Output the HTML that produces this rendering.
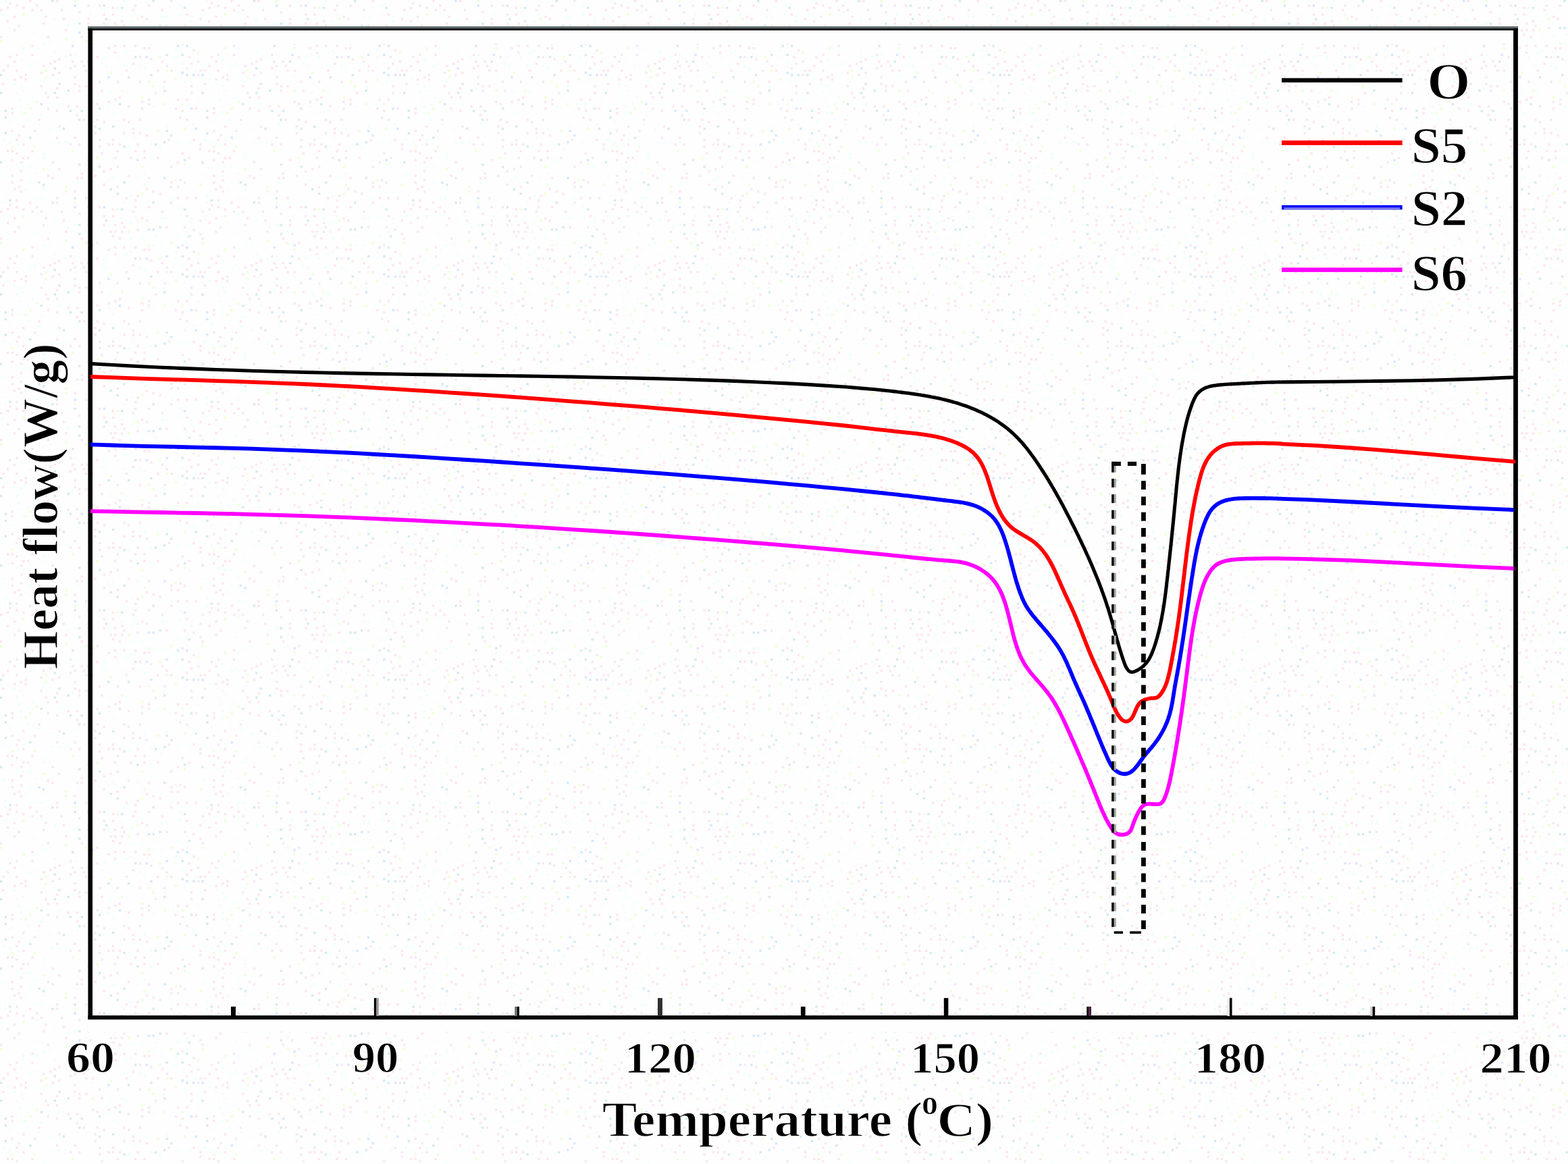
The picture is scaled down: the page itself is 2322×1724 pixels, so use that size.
<!DOCTYPE html>
<html lang="en"><head><meta charset="utf-8"><title>DSC heat flow curves</title>
<style>
html,body{margin:0;padding:0;background:#fefefe;}
body{width:2322px;height:1724px;overflow:hidden;}
svg{display:block;}
text{font-family:'Liberation Serif','Times New Roman',serif;font-weight:bold;fill:#000;stroke:#fefefe;stroke-width:1.8px;stroke-linejoin:round;}
.c{fill:none;stroke-width:5.8;stroke-linejoin:round;stroke-linecap:butt;}
</style></head><body>
<svg width="2322" height="1724" viewBox="0 0 2322 1724">
<defs><pattern id="dots" width="298.54" height="298.54" patternUnits="userSpaceOnUse"><rect x="136.00" y="63.03" width="3.32" height="3.32" fill="#d2e8f5"/><rect x="275.32" y="19.90" width="3.32" height="3.32" fill="#fde4ed"/><rect x="225.57" y="39.81" width="3.32" height="3.32" fill="#d2e8f5"/><rect x="245.47" y="23.22" width="3.32" height="3.32" fill="#eefeff"/><rect x="89.56" y="13.27" width="3.32" height="3.32" fill="#fde4ed"/><rect x="182.44" y="175.81" width="3.32" height="3.32" fill="#fde4ed"/><rect x="99.51" y="36.49" width="3.32" height="3.32" fill="#eefeff"/><rect x="179.13" y="23.22" width="3.32" height="3.32" fill="#eefeff"/><rect x="49.76" y="92.88" width="3.32" height="3.32" fill="#eefeff"/><rect x="23.22" y="242.15" width="3.32" height="3.32" fill="#eefeff"/><rect x="165.86" y="19.90" width="3.32" height="3.32" fill="#fde4ed"/><rect x="16.59" y="235.52" width="3.32" height="3.32" fill="#fde4ed"/><rect x="122.73" y="175.81" width="3.32" height="3.32" fill="#fde4ed"/><rect x="228.88" y="49.76" width="3.32" height="3.32" fill="#eefeff"/><rect x="129.37" y="235.52" width="3.32" height="3.32" fill="#fde4ed"/><rect x="43.12" y="245.47" width="3.32" height="3.32" fill="#eefeff"/><rect x="268.69" y="79.61" width="3.32" height="3.32" fill="#d2e8f5"/><rect x="39.81" y="232.20" width="3.32" height="3.32" fill="#fde4ed"/><rect x="238.83" y="23.22" width="3.32" height="3.32" fill="#eefeff"/><rect x="86.25" y="208.98" width="3.32" height="3.32" fill="#eefeff"/><rect x="179.13" y="132.69" width="3.32" height="3.32" fill="#eeffd8"/><rect x="245.47" y="192.39" width="3.32" height="3.32" fill="#d2e8f5"/><rect x="126.05" y="102.83" width="3.32" height="3.32" fill="#fde4ed"/><rect x="295.23" y="102.83" width="3.32" height="3.32" fill="#fde4ed"/><rect x="242.15" y="126.05" width="3.32" height="3.32" fill="#eefeff"/><rect x="208.98" y="142.64" width="3.32" height="3.32" fill="#eeffd8"/><rect x="119.42" y="255.42" width="3.32" height="3.32" fill="#fde4ed"/><rect x="49.76" y="215.61" width="3.32" height="3.32" fill="#eeffd8"/><rect x="69.66" y="142.64" width="3.32" height="3.32" fill="#fde4ed"/><rect x="205.66" y="175.81" width="3.32" height="3.32" fill="#fde4ed"/><rect x="281.96" y="29.85" width="3.32" height="3.32" fill="#eefeff"/><rect x="242.15" y="132.69" width="3.32" height="3.32" fill="#d2e8f5"/><rect x="291.91" y="145.95" width="3.32" height="3.32" fill="#eefeff"/><rect x="208.98" y="245.47" width="3.32" height="3.32" fill="#eeffd8"/><rect x="26.54" y="36.49" width="3.32" height="3.32" fill="#fde4ed"/><rect x="199.03" y="295.23" width="3.32" height="3.32" fill="#fde4ed"/><rect x="23.22" y="295.23" width="3.32" height="3.32" fill="#fde4ed"/><rect x="272.01" y="242.15" width="3.32" height="3.32" fill="#eeffd8"/><rect x="119.42" y="162.54" width="3.32" height="3.32" fill="#d2e8f5"/><rect x="6.63" y="195.71" width="3.32" height="3.32" fill="#d2e8f5"/><rect x="69.66" y="258.74" width="3.32" height="3.32" fill="#fde4ed"/><rect x="208.98" y="23.22" width="3.32" height="3.32" fill="#fde4ed"/><rect x="119.42" y="53.07" width="3.32" height="3.32" fill="#fde4ed"/><rect x="165.86" y="165.86" width="3.32" height="3.32" fill="#eefeff"/><rect x="33.17" y="69.66" width="3.32" height="3.32" fill="#eeffd8"/><rect x="169.17" y="232.20" width="3.32" height="3.32" fill="#fde4ed"/><rect x="56.39" y="182.44" width="3.32" height="3.32" fill="#eefeff"/><rect x="116.10" y="175.81" width="3.32" height="3.32" fill="#d2e8f5"/><rect x="288.59" y="159.22" width="3.32" height="3.32" fill="#fde4ed"/><rect x="63.03" y="33.17" width="3.32" height="3.32" fill="#fde4ed"/><rect x="63.03" y="96.20" width="3.32" height="3.32" fill="#fde4ed"/><rect x="3.32" y="205.66" width="3.32" height="3.32" fill="#eefeff"/><rect x="76.29" y="109.47" width="3.32" height="3.32" fill="#fde4ed"/><rect x="0.00" y="59.71" width="3.32" height="3.32" fill="#eeffd8"/><rect x="225.57" y="155.91" width="3.32" height="3.32" fill="#eefeff"/><rect x="53.07" y="291.91" width="3.32" height="3.32" fill="#eefeff"/><rect x="262.05" y="275.32" width="3.32" height="3.32" fill="#fde4ed"/><rect x="192.39" y="288.59" width="3.32" height="3.32" fill="#eefeff"/><rect x="43.12" y="202.35" width="3.32" height="3.32" fill="#d2e8f5"/><rect x="23.22" y="79.61" width="3.32" height="3.32" fill="#fde4ed"/><rect x="86.25" y="185.76" width="3.32" height="3.32" fill="#fde4ed"/><rect x="46.44" y="142.64" width="3.32" height="3.32" fill="#eefeff"/><rect x="19.90" y="43.12" width="3.32" height="3.32" fill="#fde4ed"/><rect x="238.83" y="63.03" width="3.32" height="3.32" fill="#eefeff"/><rect x="39.81" y="152.59" width="3.32" height="3.32" fill="#eefeff"/><rect x="9.95" y="29.85" width="3.32" height="3.32" fill="#fde4ed"/><rect x="258.74" y="159.22" width="3.32" height="3.32" fill="#fde4ed"/><rect x="268.69" y="106.15" width="3.32" height="3.32" fill="#d2e8f5"/><rect x="255.42" y="152.59" width="3.32" height="3.32" fill="#eefeff"/><rect x="49.76" y="46.44" width="3.32" height="3.32" fill="#eefeff"/><rect x="195.71" y="202.35" width="3.32" height="3.32" fill="#eefeff"/><rect x="129.37" y="33.17" width="3.32" height="3.32" fill="#fde4ed"/><rect x="109.47" y="202.35" width="3.32" height="3.32" fill="#fde4ed"/><rect x="218.93" y="6.63" width="3.32" height="3.32" fill="#fde4ed"/><rect x="59.71" y="291.91" width="3.32" height="3.32" fill="#eefeff"/><rect x="9.95" y="222.25" width="3.32" height="3.32" fill="#fde4ed"/><rect x="272.01" y="36.49" width="3.32" height="3.32" fill="#fde4ed"/><rect x="218.93" y="152.59" width="3.32" height="3.32" fill="#fde4ed"/><rect x="149.27" y="92.88" width="3.32" height="3.32" fill="#eefeff"/><rect x="228.88" y="212.30" width="3.32" height="3.32" fill="#d2e8f5"/><rect x="268.69" y="92.88" width="3.32" height="3.32" fill="#eefeff"/><rect x="79.61" y="99.51" width="3.32" height="3.32" fill="#d2e8f5"/><rect x="96.20" y="82.93" width="3.32" height="3.32" fill="#eefeff"/><rect x="208.98" y="149.27" width="3.32" height="3.32" fill="#fde4ed"/><rect x="9.95" y="116.10" width="3.32" height="3.32" fill="#eefeff"/><rect x="109.47" y="79.61" width="3.32" height="3.32" fill="#eefeff"/><rect x="145.95" y="189.08" width="3.32" height="3.32" fill="#d2e8f5"/><rect x="152.59" y="33.17" width="3.32" height="3.32" fill="#fde4ed"/><rect x="43.12" y="96.20" width="3.32" height="3.32" fill="#eefeff"/><rect x="82.93" y="142.64" width="3.32" height="3.32" fill="#fde4ed"/><rect x="202.35" y="262.05" width="3.32" height="3.32" fill="#eefeff"/><rect x="275.32" y="145.95" width="3.32" height="3.32" fill="#fde4ed"/><rect x="278.64" y="49.76" width="3.32" height="3.32" fill="#d2e8f5"/><rect x="82.93" y="202.35" width="3.32" height="3.32" fill="#fde4ed"/><rect x="182.44" y="268.69" width="3.32" height="3.32" fill="#d2e8f5"/><rect x="36.49" y="165.86" width="3.32" height="3.32" fill="#eeffd8"/><rect x="169.17" y="33.17" width="3.32" height="3.32" fill="#fde4ed"/><rect x="69.66" y="53.07" width="3.32" height="3.32" fill="#fde4ed"/><rect x="63.03" y="248.79" width="3.32" height="3.32" fill="#eeffd8"/><rect x="275.32" y="59.71" width="3.32" height="3.32" fill="#eefeff"/><rect x="252.10" y="199.03" width="3.32" height="3.32" fill="#d2e8f5"/><rect x="63.03" y="232.20" width="3.32" height="3.32" fill="#eefeff"/><rect x="53.07" y="6.63" width="3.32" height="3.32" fill="#fde4ed"/><rect x="275.32" y="43.12" width="3.32" height="3.32" fill="#eefeff"/><rect x="79.61" y="89.56" width="3.32" height="3.32" fill="#fde4ed"/><rect x="106.15" y="89.56" width="3.32" height="3.32" fill="#fde4ed"/><rect x="212.30" y="99.51" width="3.32" height="3.32" fill="#eefeff"/><rect x="136.00" y="109.47" width="3.32" height="3.32" fill="#eefeff"/><rect x="175.81" y="53.07" width="3.32" height="3.32" fill="#fde4ed"/><rect x="278.64" y="245.47" width="3.32" height="3.32" fill="#eefeff"/><rect x="175.81" y="212.30" width="3.32" height="3.32" fill="#fde4ed"/><rect x="225.57" y="63.03" width="3.32" height="3.32" fill="#eefeff"/><rect x="185.76" y="76.29" width="3.32" height="3.32" fill="#eefeff"/><rect x="72.98" y="59.71" width="3.32" height="3.32" fill="#eefeff"/><rect x="262.05" y="49.76" width="3.32" height="3.32" fill="#eefeff"/><rect x="23.22" y="136.00" width="3.32" height="3.32" fill="#eefeff"/><rect x="222.25" y="235.52" width="3.32" height="3.32" fill="#eefeff"/><rect x="23.22" y="102.83" width="3.32" height="3.32" fill="#fde4ed"/><rect x="116.10" y="16.59" width="3.32" height="3.32" fill="#fde4ed"/><rect x="212.30" y="189.08" width="3.32" height="3.32" fill="#eefeff"/><rect x="185.76" y="136.00" width="3.32" height="3.32" fill="#eefeff"/><rect x="212.30" y="255.42" width="3.32" height="3.32" fill="#eefeff"/><rect x="82.93" y="291.91" width="3.32" height="3.32" fill="#fde4ed"/><rect x="189.08" y="215.61" width="3.32" height="3.32" fill="#eefeff"/><rect x="202.35" y="212.30" width="3.32" height="3.32" fill="#fde4ed"/><rect x="295.23" y="218.93" width="3.32" height="3.32" fill="#fde4ed"/><rect x="235.52" y="82.93" width="3.32" height="3.32" fill="#eeffd8"/><rect x="56.39" y="175.81" width="3.32" height="3.32" fill="#fde4ed"/><rect x="165.86" y="185.76" width="3.32" height="3.32" fill="#d2e8f5"/><rect x="29.85" y="281.96" width="3.32" height="3.32" fill="#fde4ed"/><rect x="179.13" y="29.85" width="3.32" height="3.32" fill="#fde4ed"/><rect x="281.96" y="126.05" width="3.32" height="3.32" fill="#fde4ed"/><rect x="63.03" y="272.01" width="3.32" height="3.32" fill="#d2e8f5"/><rect x="59.71" y="106.15" width="3.32" height="3.32" fill="#fde4ed"/><rect x="195.71" y="92.88" width="3.32" height="3.32" fill="#fde4ed"/><rect x="165.86" y="205.66" width="3.32" height="3.32" fill="#fde4ed"/><rect x="281.96" y="92.88" width="3.32" height="3.32" fill="#fde4ed"/><rect x="182.44" y="215.61" width="3.32" height="3.32" fill="#d2e8f5"/><rect x="142.64" y="175.81" width="3.32" height="3.32" fill="#fde4ed"/><rect x="149.27" y="132.69" width="3.32" height="3.32" fill="#fde4ed"/><rect x="152.59" y="6.63" width="3.32" height="3.32" fill="#d2e8f5"/><rect x="232.20" y="192.39" width="3.32" height="3.32" fill="#eeffd8"/><rect x="6.63" y="162.54" width="3.32" height="3.32" fill="#d2e8f5"/><rect x="218.93" y="262.05" width="3.32" height="3.32" fill="#fde4ed"/><rect x="215.61" y="26.54" width="3.32" height="3.32" fill="#fde4ed"/><rect x="96.20" y="43.12" width="3.32" height="3.32" fill="#fde4ed"/><rect x="109.47" y="112.78" width="3.32" height="3.32" fill="#fde4ed"/><rect x="285.27" y="109.47" width="3.32" height="3.32" fill="#d2e8f5"/><rect x="63.03" y="225.57" width="3.32" height="3.32" fill="#eefeff"/><rect x="242.15" y="208.98" width="3.32" height="3.32" fill="#d2e8f5"/><rect x="36.49" y="116.10" width="3.32" height="3.32" fill="#fde4ed"/><rect x="291.91" y="76.29" width="3.32" height="3.32" fill="#eeffd8"/><rect x="29.85" y="112.78" width="3.32" height="3.32" fill="#fde4ed"/><rect x="109.47" y="33.17" width="3.32" height="3.32" fill="#eefeff"/><rect x="92.88" y="26.54" width="3.32" height="3.32" fill="#fde4ed"/><rect x="49.76" y="192.39" width="3.32" height="3.32" fill="#fde4ed"/><rect x="142.64" y="232.20" width="3.32" height="3.32" fill="#eeffd8"/><rect x="112.78" y="262.05" width="3.32" height="3.32" fill="#fde4ed"/><rect x="16.59" y="222.25" width="3.32" height="3.32" fill="#fde4ed"/><rect x="46.44" y="66.34" width="3.32" height="3.32" fill="#fde4ed"/><rect x="82.93" y="129.37" width="3.32" height="3.32" fill="#fde4ed"/><rect x="222.25" y="86.25" width="3.32" height="3.32" fill="#fde4ed"/><rect x="285.27" y="72.98" width="3.32" height="3.32" fill="#fde4ed"/><rect x="145.95" y="6.63" width="3.32" height="3.32" fill="#fde4ed"/><rect x="13.27" y="3.32" width="3.32" height="3.32" fill="#fde4ed"/><rect x="212.30" y="232.20" width="3.32" height="3.32" fill="#fde4ed"/><rect x="215.61" y="199.03" width="3.32" height="3.32" fill="#fde4ed"/><rect x="189.08" y="43.12" width="3.32" height="3.32" fill="#eeffd8"/><rect x="278.64" y="208.98" width="3.32" height="3.32" fill="#eefeff"/><rect x="165.86" y="212.30" width="3.32" height="3.32" fill="#fde4ed"/><rect x="291.91" y="89.56" width="3.32" height="3.32" fill="#fde4ed"/><rect x="142.64" y="82.93" width="3.32" height="3.32" fill="#fde4ed"/><rect x="169.17" y="145.95" width="3.32" height="3.32" fill="#fde4ed"/><rect x="29.85" y="265.37" width="3.32" height="3.32" fill="#fde4ed"/><rect x="182.44" y="66.34" width="3.32" height="3.32" fill="#fde4ed"/><rect x="159.22" y="212.30" width="3.32" height="3.32" fill="#fde4ed"/><rect x="252.10" y="102.83" width="3.32" height="3.32" fill="#fde4ed"/><rect x="16.59" y="192.39" width="3.32" height="3.32" fill="#fde4ed"/><rect x="66.34" y="112.78" width="3.32" height="3.32" fill="#eeffd8"/><rect x="0.00" y="109.47" width="3.32" height="3.32" fill="#d2e8f5"/><rect x="136.00" y="102.83" width="3.32" height="3.32" fill="#fde4ed"/><rect x="129.37" y="89.56" width="3.32" height="3.32" fill="#d2e8f5"/><rect x="76.29" y="0.00" width="3.32" height="3.32" fill="#d2e8f5"/><rect x="159.22" y="33.17" width="3.32" height="3.32" fill="#eefeff"/><rect x="116.10" y="212.30" width="3.32" height="3.32" fill="#fde4ed"/><rect x="102.83" y="212.30" width="3.32" height="3.32" fill="#fde4ed"/><rect x="36.49" y="109.47" width="3.32" height="3.32" fill="#fde4ed"/><rect x="59.71" y="169.17" width="3.32" height="3.32" fill="#eefeff"/><rect x="16.59" y="165.86" width="3.32" height="3.32" fill="#fde4ed"/><rect x="126.05" y="126.05" width="3.32" height="3.32" fill="#fde4ed"/><rect x="33.17" y="245.47" width="3.32" height="3.32" fill="#eefeff"/><rect x="63.03" y="278.64" width="3.32" height="3.32" fill="#eefeff"/><rect x="162.54" y="136.00" width="3.32" height="3.32" fill="#eefeff"/><rect x="63.03" y="119.42" width="3.32" height="3.32" fill="#eefeff"/><rect x="16.59" y="215.61" width="3.32" height="3.32" fill="#eeffd8"/><rect x="295.23" y="212.30" width="3.32" height="3.32" fill="#fde4ed"/><rect x="222.25" y="212.30" width="3.32" height="3.32" fill="#eefeff"/><rect x="6.63" y="288.59" width="3.32" height="3.32" fill="#eefeff"/><rect x="288.59" y="291.91" width="3.32" height="3.32" fill="#fde4ed"/><rect x="33.17" y="9.95" width="3.32" height="3.32" fill="#fde4ed"/><rect x="56.39" y="268.69" width="3.32" height="3.32" fill="#d2e8f5"/><rect x="43.12" y="159.22" width="3.32" height="3.32" fill="#eeffd8"/><rect x="265.37" y="6.63" width="3.32" height="3.32" fill="#eefeff"/><rect x="288.59" y="102.83" width="3.32" height="3.32" fill="#eefeff"/><rect x="109.47" y="0.00" width="3.32" height="3.32" fill="#eeffd8"/><rect x="26.54" y="212.30" width="3.32" height="3.32" fill="#eefeff"/><rect x="36.49" y="278.64" width="3.32" height="3.32" fill="#eefeff"/><rect x="26.54" y="199.03" width="3.32" height="3.32" fill="#fde4ed"/><rect x="96.20" y="275.32" width="3.32" height="3.32" fill="#eeffd8"/><rect x="208.98" y="159.22" width="3.32" height="3.32" fill="#fde4ed"/><rect x="202.35" y="288.59" width="3.32" height="3.32" fill="#fde4ed"/><rect x="16.59" y="258.74" width="3.32" height="3.32" fill="#fde4ed"/><rect x="29.85" y="252.10" width="3.32" height="3.32" fill="#fde4ed"/><rect x="275.32" y="291.91" width="3.32" height="3.32" fill="#fde4ed"/><rect x="262.05" y="238.83" width="3.32" height="3.32" fill="#fde4ed"/><rect x="23.22" y="205.66" width="3.32" height="3.32" fill="#fde4ed"/><rect x="285.27" y="39.81" width="3.32" height="3.32" fill="#fde4ed"/><rect x="285.27" y="205.66" width="3.32" height="3.32" fill="#fde4ed"/><rect x="218.93" y="119.42" width="3.32" height="3.32" fill="#eeffd8"/><rect x="195.71" y="195.71" width="3.32" height="3.32" fill="#fde4ed"/><rect x="199.03" y="6.63" width="3.32" height="3.32" fill="#fde4ed"/><rect x="192.39" y="29.85" width="3.32" height="3.32" fill="#eefeff"/><rect x="189.08" y="112.78" width="3.32" height="3.32" fill="#d2e8f5"/><rect x="86.25" y="86.25" width="3.32" height="3.32" fill="#fde4ed"/><rect x="245.47" y="36.49" width="3.32" height="3.32" fill="#fde4ed"/><rect x="222.25" y="109.47" width="3.32" height="3.32" fill="#d2e8f5"/><rect x="53.07" y="255.42" width="3.32" height="3.32" fill="#eefeff"/><rect x="116.10" y="46.44" width="3.32" height="3.32" fill="#d2e8f5"/><rect x="96.20" y="208.98" width="3.32" height="3.32" fill="#eefeff"/><rect x="165.86" y="9.95" width="3.32" height="3.32" fill="#fde4ed"/><rect x="288.59" y="189.08" width="3.32" height="3.32" fill="#d2e8f5"/><rect x="126.05" y="59.71" width="3.32" height="3.32" fill="#eeffd8"/><rect x="145.95" y="159.22" width="3.32" height="3.32" fill="#d2e8f5"/><rect x="0.00" y="136.00" width="3.32" height="3.32" fill="#d2e8f5"/><rect x="165.86" y="49.76" width="3.32" height="3.32" fill="#fde4ed"/><rect x="3.32" y="122.73" width="3.32" height="3.32" fill="#fde4ed"/><rect x="155.91" y="26.54" width="3.32" height="3.32" fill="#d2e8f5"/><rect x="162.54" y="248.79" width="3.32" height="3.32" fill="#fde4ed"/><rect x="152.59" y="179.13" width="3.32" height="3.32" fill="#fde4ed"/><rect x="19.90" y="116.10" width="3.32" height="3.32" fill="#fde4ed"/><rect x="19.90" y="278.64" width="3.32" height="3.32" fill="#fde4ed"/><rect x="268.69" y="63.03" width="3.32" height="3.32" fill="#fde4ed"/><rect x="112.78" y="182.44" width="3.32" height="3.32" fill="#eefeff"/><rect x="132.69" y="79.61" width="3.32" height="3.32" fill="#d2e8f5"/><rect x="179.13" y="9.95" width="3.32" height="3.32" fill="#d2e8f5"/><rect x="232.20" y="232.20" width="3.32" height="3.32" fill="#fde4ed"/><rect x="33.17" y="19.90" width="3.32" height="3.32" fill="#eeffd8"/><rect x="189.08" y="258.74" width="3.32" height="3.32" fill="#fde4ed"/><rect x="272.01" y="119.42" width="3.32" height="3.32" fill="#eefeff"/><rect x="53.07" y="69.66" width="3.32" height="3.32" fill="#eefeff"/><rect x="175.81" y="142.64" width="3.32" height="3.32" fill="#fde4ed"/><rect x="275.32" y="109.47" width="3.32" height="3.32" fill="#d2e8f5"/><rect x="275.32" y="99.51" width="3.32" height="3.32" fill="#fde4ed"/><rect x="202.35" y="235.52" width="3.32" height="3.32" fill="#d2e8f5"/><rect x="29.85" y="86.25" width="3.32" height="3.32" fill="#eefeff"/><rect x="92.88" y="189.08" width="3.32" height="3.32" fill="#d2e8f5"/><rect x="189.08" y="179.13" width="3.32" height="3.32" fill="#fde4ed"/><rect x="235.52" y="36.49" width="3.32" height="3.32" fill="#d2e8f5"/><rect x="99.51" y="155.91" width="3.32" height="3.32" fill="#fde4ed"/><rect x="6.63" y="172.49" width="3.32" height="3.32" fill="#d2e8f5"/><rect x="172.49" y="222.25" width="3.32" height="3.32" fill="#fde4ed"/><rect x="159.22" y="112.78" width="3.32" height="3.32" fill="#d2e8f5"/><rect x="116.10" y="242.15" width="3.32" height="3.32" fill="#d2e8f5"/><rect x="212.30" y="222.25" width="3.32" height="3.32" fill="#fde4ed"/><rect x="102.83" y="162.54" width="3.32" height="3.32" fill="#d2e8f5"/><rect x="272.01" y="189.08" width="3.32" height="3.32" fill="#eeffd8"/><rect x="129.37" y="6.63" width="3.32" height="3.32" fill="#fde4ed"/><rect x="13.27" y="179.13" width="3.32" height="3.32" fill="#eefeff"/><rect x="248.79" y="205.66" width="3.32" height="3.32" fill="#fde4ed"/><rect x="29.85" y="165.86" width="3.32" height="3.32" fill="#eefeff"/><rect x="195.71" y="189.08" width="3.32" height="3.32" fill="#fde4ed"/><rect x="63.03" y="63.03" width="3.32" height="3.32" fill="#eefeff"/><rect x="295.23" y="272.01" width="3.32" height="3.32" fill="#eeffd8"/><rect x="33.17" y="232.20" width="3.32" height="3.32" fill="#fde4ed"/><rect x="0.00" y="53.07" width="3.32" height="3.32" fill="#fde4ed"/><rect x="238.83" y="13.27" width="3.32" height="3.32" fill="#fde4ed"/><rect x="106.15" y="222.25" width="3.32" height="3.32" fill="#eeffd8"/><rect x="295.23" y="46.44" width="3.32" height="3.32" fill="#fde4ed"/><rect x="29.85" y="126.05" width="3.32" height="3.32" fill="#eefeff"/><rect x="245.47" y="79.61" width="3.32" height="3.32" fill="#d2e8f5"/><rect x="252.10" y="0.00" width="3.32" height="3.32" fill="#fde4ed"/><rect x="225.57" y="126.05" width="3.32" height="3.32" fill="#eeffd8"/><rect x="116.10" y="132.69" width="3.32" height="3.32" fill="#fde4ed"/><rect x="199.03" y="222.25" width="3.32" height="3.32" fill="#fde4ed"/><rect x="232.20" y="102.83" width="3.32" height="3.32" fill="#fde4ed"/><rect x="172.49" y="275.32" width="3.32" height="3.32" fill="#fde4ed"/><rect x="23.22" y="6.63" width="3.32" height="3.32" fill="#fde4ed"/><rect x="208.98" y="285.27" width="3.32" height="3.32" fill="#eeffd8"/><rect x="96.20" y="281.96" width="3.32" height="3.32" fill="#eeffd8"/><rect x="155.91" y="96.20" width="3.32" height="3.32" fill="#eefeff"/><rect x="13.27" y="295.23" width="3.32" height="3.32" fill="#d2e8f5"/><rect x="175.81" y="152.59" width="3.32" height="3.32" fill="#d2e8f5"/><rect x="82.93" y="0.00" width="3.32" height="3.32" fill="#fde4ed"/><rect x="109.47" y="122.73" width="3.32" height="3.32" fill="#fde4ed"/><rect x="262.05" y="208.98" width="3.32" height="3.32" fill="#eefeff"/><rect x="281.96" y="23.22" width="3.32" height="3.32" fill="#eefeff"/><rect x="19.90" y="89.56" width="3.32" height="3.32" fill="#fde4ed"/><rect x="252.10" y="59.71" width="3.32" height="3.32" fill="#eeffd8"/><rect x="19.90" y="23.22" width="3.32" height="3.32" fill="#fde4ed"/><rect x="132.69" y="46.44" width="3.32" height="3.32" fill="#fde4ed"/><rect x="79.61" y="76.29" width="3.32" height="3.32" fill="#eefeff"/><rect x="195.71" y="13.27" width="3.32" height="3.32" fill="#fde4ed"/><rect x="281.96" y="159.22" width="3.32" height="3.32" fill="#d2e8f5"/><rect x="139.32" y="185.76" width="3.32" height="3.32" fill="#fde4ed"/><rect x="43.12" y="0.00" width="3.32" height="3.32" fill="#fde4ed"/><rect x="116.10" y="33.17" width="3.32" height="3.32" fill="#d2e8f5"/><rect x="159.22" y="149.27" width="3.32" height="3.32" fill="#fde4ed"/><rect x="182.44" y="36.49" width="3.32" height="3.32" fill="#fde4ed"/><rect x="199.03" y="82.93" width="3.32" height="3.32" fill="#d2e8f5"/><rect x="79.61" y="136.00" width="3.32" height="3.32" fill="#d2e8f5"/><rect x="265.37" y="172.49" width="3.32" height="3.32" fill="#fde4ed"/><rect x="16.59" y="159.22" width="3.32" height="3.32" fill="#fde4ed"/><rect x="79.61" y="26.54" width="3.32" height="3.32" fill="#eefeff"/><rect x="142.64" y="152.59" width="3.32" height="3.32" fill="#fde4ed"/><rect x="139.32" y="258.74" width="3.32" height="3.32" fill="#fde4ed"/><rect x="109.47" y="291.91" width="3.32" height="3.32" fill="#d2e8f5"/><rect x="116.10" y="126.05" width="3.32" height="3.32" fill="#fde4ed"/><rect x="252.10" y="268.69" width="3.32" height="3.32" fill="#fde4ed"/><rect x="9.95" y="96.20" width="3.32" height="3.32" fill="#fde4ed"/><rect x="162.54" y="106.15" width="3.32" height="3.32" fill="#eeffd8"/><rect x="208.98" y="53.07" width="3.32" height="3.32" fill="#eefeff"/><rect x="126.05" y="291.91" width="3.32" height="3.32" fill="#fde4ed"/><rect x="136.00" y="132.69" width="3.32" height="3.32" fill="#eeffd8"/><rect x="152.59" y="252.10" width="3.32" height="3.32" fill="#fde4ed"/><rect x="215.61" y="82.93" width="3.32" height="3.32" fill="#d2e8f5"/><rect x="66.34" y="102.83" width="3.32" height="3.32" fill="#eeffd8"/><rect x="26.54" y="275.32" width="3.32" height="3.32" fill="#fde4ed"/><rect x="228.88" y="136.00" width="3.32" height="3.32" fill="#fde4ed"/><rect x="179.13" y="43.12" width="3.32" height="3.32" fill="#fde4ed"/><rect x="39.81" y="175.81" width="3.32" height="3.32" fill="#eefeff"/><rect x="96.20" y="56.39" width="3.32" height="3.32" fill="#eeffd8"/><rect x="225.57" y="281.96" width="3.32" height="3.32" fill="#fde4ed"/><rect x="112.78" y="155.91" width="3.32" height="3.32" fill="#fde4ed"/><rect x="185.76" y="102.83" width="3.32" height="3.32" fill="#fde4ed"/><rect x="102.83" y="99.51" width="3.32" height="3.32" fill="#fde4ed"/><rect x="189.08" y="155.91" width="3.32" height="3.32" fill="#fde4ed"/><rect x="122.73" y="96.20" width="3.32" height="3.32" fill="#fde4ed"/><rect x="252.10" y="245.47" width="3.32" height="3.32" fill="#fde4ed"/><rect x="29.85" y="155.91" width="3.32" height="3.32" fill="#eefeff"/><rect x="72.98" y="189.08" width="3.32" height="3.32" fill="#eefeff"/><rect x="109.47" y="281.96" width="3.32" height="3.32" fill="#fde4ed"/><rect x="43.12" y="268.69" width="3.32" height="3.32" fill="#eefeff"/><rect x="262.05" y="145.95" width="3.32" height="3.32" fill="#fde4ed"/><rect x="142.64" y="59.71" width="3.32" height="3.32" fill="#fde4ed"/><rect x="86.25" y="106.15" width="3.32" height="3.32" fill="#fde4ed"/><rect x="252.10" y="275.32" width="3.32" height="3.32" fill="#fde4ed"/><rect x="172.49" y="285.27" width="3.32" height="3.32" fill="#d2e8f5"/><rect x="76.29" y="262.05" width="3.32" height="3.32" fill="#fde4ed"/><rect x="13.27" y="208.98" width="3.32" height="3.32" fill="#eefeff"/><rect x="202.35" y="26.54" width="3.32" height="3.32" fill="#eeffd8"/><rect x="278.64" y="232.20" width="3.32" height="3.32" fill="#fde4ed"/><rect x="268.69" y="225.57" width="3.32" height="3.32" fill="#fde4ed"/><rect x="275.32" y="66.34" width="3.32" height="3.32" fill="#d2e8f5"/><rect x="172.49" y="119.42" width="3.32" height="3.32" fill="#fde4ed"/><rect x="152.59" y="272.01" width="3.32" height="3.32" fill="#fde4ed"/><rect x="242.15" y="152.59" width="3.32" height="3.32" fill="#eeffd8"/><rect x="3.32" y="19.90" width="3.32" height="3.32" fill="#eefeff"/><rect x="242.15" y="262.05" width="3.32" height="3.32" fill="#d2e8f5"/><rect x="212.30" y="69.66" width="3.32" height="3.32" fill="#fde4ed"/><rect x="145.95" y="119.42" width="3.32" height="3.32" fill="#fde4ed"/><rect x="218.93" y="69.66" width="3.32" height="3.32" fill="#fde4ed"/><rect x="205.66" y="82.93" width="3.32" height="3.32" fill="#fde4ed"/><rect x="53.07" y="16.59" width="3.32" height="3.32" fill="#eefeff"/><rect x="132.69" y="19.90" width="3.32" height="3.32" fill="#eefeff"/><rect x="268.69" y="162.54" width="3.32" height="3.32" fill="#fde4ed"/><rect x="262.05" y="291.91" width="3.32" height="3.32" fill="#fde4ed"/><rect x="258.74" y="82.93" width="3.32" height="3.32" fill="#eefeff"/><rect x="76.29" y="238.83" width="3.32" height="3.32" fill="#fde4ed"/><rect x="102.83" y="79.61" width="3.32" height="3.32" fill="#fde4ed"/><rect x="235.52" y="285.27" width="3.32" height="3.32" fill="#fde4ed"/><rect x="281.96" y="136.00" width="3.32" height="3.32" fill="#fde4ed"/><rect x="192.39" y="232.20" width="3.32" height="3.32" fill="#fde4ed"/><rect x="275.32" y="175.81" width="3.32" height="3.32" fill="#fde4ed"/><rect x="245.47" y="102.83" width="3.32" height="3.32" fill="#eeffd8"/><rect x="162.54" y="278.64" width="3.32" height="3.32" fill="#d2e8f5"/><rect x="6.63" y="0.00" width="3.32" height="3.32" fill="#eefeff"/><rect x="205.66" y="195.71" width="3.32" height="3.32" fill="#fde4ed"/><rect x="192.39" y="72.98" width="3.32" height="3.32" fill="#eefeff"/><rect x="169.17" y="43.12" width="3.32" height="3.32" fill="#fde4ed"/><rect x="53.07" y="149.27" width="3.32" height="3.32" fill="#eeffd8"/><rect x="215.61" y="278.64" width="3.32" height="3.32" fill="#fde4ed"/><rect x="16.59" y="268.69" width="3.32" height="3.32" fill="#fde4ed"/><rect x="33.17" y="132.69" width="3.32" height="3.32" fill="#eefeff"/><rect x="46.44" y="79.61" width="3.32" height="3.32" fill="#fde4ed"/><rect x="205.66" y="119.42" width="3.32" height="3.32" fill="#fde4ed"/><rect x="26.54" y="145.95" width="3.32" height="3.32" fill="#eefeff"/><rect x="106.15" y="66.34" width="3.32" height="3.32" fill="#d2e8f5"/><rect x="258.74" y="116.10" width="3.32" height="3.32" fill="#eeffd8"/><rect x="86.25" y="248.79" width="3.32" height="3.32" fill="#fde4ed"/><rect x="99.51" y="132.69" width="3.32" height="3.32" fill="#d2e8f5"/><rect x="13.27" y="82.93" width="3.32" height="3.32" fill="#fde4ed"/><rect x="169.17" y="66.34" width="3.32" height="3.32" fill="#fde4ed"/><rect x="159.22" y="69.66" width="3.32" height="3.32" fill="#fde4ed"/><rect x="46.44" y="222.25" width="3.32" height="3.32" fill="#fde4ed"/><rect x="268.69" y="152.59" width="3.32" height="3.32" fill="#eeffd8"/><rect x="235.52" y="218.93" width="3.32" height="3.32" fill="#eefeff"/><rect x="159.22" y="155.91" width="3.32" height="3.32" fill="#eefeff"/><rect x="59.71" y="152.59" width="3.32" height="3.32" fill="#d2e8f5"/><rect x="33.17" y="185.76" width="3.32" height="3.32" fill="#fde4ed"/><rect x="19.90" y="122.73" width="3.32" height="3.32" fill="#eefeff"/><rect x="106.15" y="129.37" width="3.32" height="3.32" fill="#eefeff"/><rect x="0.00" y="13.27" width="3.32" height="3.32" fill="#fde4ed"/><rect x="258.74" y="265.37" width="3.32" height="3.32" fill="#eeffd8"/><rect x="152.59" y="19.90" width="3.32" height="3.32" fill="#fde4ed"/><rect x="205.66" y="96.20" width="3.32" height="3.32" fill="#eefeff"/><rect x="0.00" y="238.83" width="3.32" height="3.32" fill="#d2e8f5"/><rect x="126.05" y="43.12" width="3.32" height="3.32" fill="#eefeff"/><rect x="149.27" y="225.57" width="3.32" height="3.32" fill="#fde4ed"/><rect x="172.49" y="245.47" width="3.32" height="3.32" fill="#fde4ed"/><rect x="86.25" y="152.59" width="3.32" height="3.32" fill="#eefeff"/><rect x="199.03" y="66.34" width="3.32" height="3.32" fill="#fde4ed"/><rect x="3.32" y="102.83" width="3.32" height="3.32" fill="#fde4ed"/><rect x="112.78" y="169.17" width="3.32" height="3.32" fill="#fde4ed"/><rect x="272.01" y="235.52" width="3.32" height="3.32" fill="#d2e8f5"/><rect x="245.47" y="185.76" width="3.32" height="3.32" fill="#eefeff"/><rect x="23.22" y="225.57" width="3.32" height="3.32" fill="#fde4ed"/><rect x="169.17" y="76.29" width="3.32" height="3.32" fill="#fde4ed"/><rect x="66.34" y="23.22" width="3.32" height="3.32" fill="#fde4ed"/><rect x="3.32" y="258.74" width="3.32" height="3.32" fill="#eefeff"/><rect x="278.64" y="82.93" width="3.32" height="3.32" fill="#fde4ed"/><rect x="172.49" y="82.93" width="3.32" height="3.32" fill="#eefeff"/><rect x="212.30" y="272.01" width="3.32" height="3.32" fill="#eeffd8"/><rect x="258.74" y="72.98" width="3.32" height="3.32" fill="#eefeff"/><rect x="129.37" y="26.54" width="3.32" height="3.32" fill="#fde4ed"/><rect x="265.37" y="19.90" width="3.32" height="3.32" fill="#eefeff"/><rect x="225.57" y="0.00" width="3.32" height="3.32" fill="#d2e8f5"/><rect x="182.44" y="195.71" width="3.32" height="3.32" fill="#fde4ed"/><rect x="72.98" y="92.88" width="3.32" height="3.32" fill="#fde4ed"/><rect x="109.47" y="96.20" width="3.32" height="3.32" fill="#fde4ed"/><rect x="291.91" y="109.47" width="3.32" height="3.32" fill="#fde4ed"/><rect x="112.78" y="268.69" width="3.32" height="3.32" fill="#eefeff"/><rect x="285.27" y="182.44" width="3.32" height="3.32" fill="#eefeff"/><rect x="33.17" y="212.30" width="3.32" height="3.32" fill="#fde4ed"/><rect x="66.34" y="136.00" width="3.32" height="3.32" fill="#fde4ed"/><rect x="159.22" y="265.37" width="3.32" height="3.32" fill="#eefeff"/><rect x="182.44" y="96.20" width="3.32" height="3.32" fill="#eefeff"/><rect x="165.86" y="262.05" width="3.32" height="3.32" fill="#eefeff"/><rect x="29.85" y="238.83" width="3.32" height="3.32" fill="#fde4ed"/><rect x="59.71" y="13.27" width="3.32" height="3.32" fill="#fde4ed"/><rect x="262.05" y="66.34" width="3.32" height="3.32" fill="#d2e8f5"/><rect x="9.95" y="9.95" width="3.32" height="3.32" fill="#fde4ed"/><rect x="272.01" y="268.69" width="3.32" height="3.32" fill="#fde4ed"/><rect x="295.23" y="26.54" width="3.32" height="3.32" fill="#fde4ed"/><rect x="152.59" y="82.93" width="3.32" height="3.32" fill="#eefeff"/><rect x="162.54" y="43.12" width="3.32" height="3.32" fill="#fde4ed"/><rect x="46.44" y="13.27" width="3.32" height="3.32" fill="#fde4ed"/><rect x="265.37" y="265.37" width="3.32" height="3.32" fill="#fde4ed"/><rect x="202.35" y="39.81" width="3.32" height="3.32" fill="#fde4ed"/><rect x="86.25" y="122.73" width="3.32" height="3.32" fill="#d2e8f5"/><rect x="109.47" y="6.63" width="3.32" height="3.32" fill="#d2e8f5"/><rect x="119.42" y="262.05" width="3.32" height="3.32" fill="#fde4ed"/><rect x="172.49" y="9.95" width="3.32" height="3.32" fill="#eeffd8"/><rect x="218.93" y="39.81" width="3.32" height="3.32" fill="#d2e8f5"/><rect x="199.03" y="19.90" width="3.32" height="3.32" fill="#eefeff"/><rect x="238.83" y="89.56" width="3.32" height="3.32" fill="#fde4ed"/><rect x="242.15" y="119.42" width="3.32" height="3.32" fill="#fde4ed"/><rect x="182.44" y="0.00" width="3.32" height="3.32" fill="#eefeff"/><rect x="145.95" y="205.66" width="3.32" height="3.32" fill="#fde4ed"/><rect x="76.29" y="208.98" width="3.32" height="3.32" fill="#eefeff"/><rect x="145.95" y="215.61" width="3.32" height="3.32" fill="#fde4ed"/><rect x="119.42" y="89.56" width="3.32" height="3.32" fill="#fde4ed"/><rect x="33.17" y="205.66" width="3.32" height="3.32" fill="#eefeff"/><rect x="136.00" y="149.27" width="3.32" height="3.32" fill="#fde4ed"/><rect x="272.01" y="9.95" width="3.32" height="3.32" fill="#d2e8f5"/><rect x="69.66" y="159.22" width="3.32" height="3.32" fill="#fde4ed"/><rect x="192.39" y="53.07" width="3.32" height="3.32" fill="#eefeff"/><rect x="252.10" y="291.91" width="3.32" height="3.32" fill="#eefeff"/><rect x="145.95" y="245.47" width="3.32" height="3.32" fill="#d2e8f5"/><rect x="218.93" y="63.03" width="3.32" height="3.32" fill="#eeffd8"/><rect x="136.00" y="69.66" width="3.32" height="3.32" fill="#eeffd8"/><rect x="185.76" y="291.91" width="3.32" height="3.32" fill="#fde4ed"/><rect x="245.47" y="96.20" width="3.32" height="3.32" fill="#fde4ed"/><rect x="139.32" y="195.71" width="3.32" height="3.32" fill="#fde4ed"/><rect x="218.93" y="145.95" width="3.32" height="3.32" fill="#fde4ed"/><rect x="82.93" y="162.54" width="3.32" height="3.32" fill="#fde4ed"/><rect x="59.71" y="126.05" width="3.32" height="3.32" fill="#fde4ed"/></pattern></defs>
<rect width="2322" height="1724" fill="#fefefe"/>
<rect width="2322" height="1724" fill="url(#dots)"/>
<rect x="137" y="45" width="2104" height="20" fill="#fefefe"/>
<rect x="130" y="1510" width="2118" height="18" fill="#fefefe"/>
<rect x="130.4" y="39" width="2117.5" height="6" fill="#000"/>
<rect x="130.4" y="39" width="2117.5" height="3.2" fill="#5f6a6c"/>
<rect x="130.4" y="1504" width="2117.5" height="6" fill="#000"/>
<rect x="130.4" y="42" width="6.6" height="1468" fill="#000"/>
<rect x="2241.1" y="42" width="6.8" height="1468" fill="#000"/>
<path class="c" stroke="#000" style="stroke-width:5.1" d="M134.0,538.6C142.8,539.1 169.3,540.6 187.0,541.6C204.7,542.5 222.3,543.4 240.0,544.2C257.7,545.0 275.3,545.7 293.0,546.4C310.7,547.1 328.3,547.8 346.0,548.3C363.7,548.9 381.3,549.5 399.0,550.0C416.7,550.5 434.3,550.9 452.0,551.4C469.7,551.8 487.3,552.2 505.0,552.6C522.7,552.9 540.3,553.3 558.0,553.6C575.7,553.9 593.3,554.2 611.0,554.5C628.7,554.8 646.3,555.0 664.0,555.3C681.7,555.6 699.3,555.8 717.0,556.1C734.7,556.4 752.3,556.6 770.0,556.9C787.7,557.2 805.3,557.4 823.0,557.7C840.7,558.0 858.3,558.3 876.0,558.7C893.7,559.0 911.3,559.4 929.0,559.8C946.7,560.2 964.3,560.6 982.0,561.0C999.7,561.5 1017.3,562.0 1035.0,562.6C1052.7,563.1 1070.3,563.7 1088.0,564.4C1105.7,565.1 1123.3,565.8 1141.0,566.7C1158.7,567.5 1176.3,568.4 1194.0,569.4C1211.7,570.4 1229.3,571.5 1247.0,572.8C1264.7,574.1 1290.3,576.4 1299.9,577.2C1309.6,578.0 1303.2,577.5 1304.9,577.7C1306.6,577.8 1308.2,578.0 1309.9,578.2C1311.5,578.4 1313.2,578.5 1314.9,578.7C1316.5,578.9 1318.2,579.1 1319.8,579.3C1321.5,579.5 1323.1,579.7 1324.8,579.9C1326.5,580.1 1328.1,580.2 1329.8,580.5C1331.4,580.7 1333.1,580.9 1334.7,581.1C1336.4,581.3 1338.1,581.5 1339.7,581.7C1341.4,581.9 1343.0,582.1 1344.7,582.3C1346.3,582.6 1348.0,582.8 1349.6,583.0C1351.3,583.3 1353.0,583.5 1354.6,583.7C1356.3,584.0 1357.9,584.2 1359.6,584.5C1361.2,584.7 1362.9,585.0 1364.5,585.3C1366.2,585.5 1367.8,585.8 1369.5,586.1C1371.1,586.4 1372.7,586.6 1374.4,586.9C1376.0,587.2 1377.7,587.5 1379.3,587.9C1380.9,588.2 1382.6,588.5 1384.2,588.8C1385.8,589.1 1387.5,589.5 1389.1,589.8C1390.7,590.2 1392.4,590.5 1394.0,590.9C1395.6,591.3 1397.2,591.7 1398.8,592.0C1400.5,592.4 1402.1,592.8 1403.7,593.2C1405.3,593.7 1406.9,594.1 1408.5,594.5C1410.1,595.0 1411.7,595.4 1413.3,595.9C1414.9,596.3 1416.5,596.8 1418.1,597.3C1419.7,597.8 1421.3,598.3 1422.8,598.8C1424.4,599.3 1426.0,599.8 1427.6,600.4C1429.1,600.9 1430.7,601.5 1432.3,602.0C1433.8,602.6 1435.4,603.2 1436.9,603.8C1438.5,604.4 1440.0,605.0 1441.6,605.7C1443.1,606.3 1444.7,607.0 1446.2,607.6C1447.7,608.3 1449.2,609.0 1450.8,609.7C1452.3,610.4 1453.8,611.1 1455.3,611.8C1456.8,612.6 1458.3,613.3 1459.8,614.1C1461.3,614.9 1462.8,615.7 1464.2,616.5C1465.7,617.3 1467.2,618.1 1468.6,619.0C1470.1,619.8 1471.5,620.7 1472.9,621.5C1474.4,622.4 1475.8,623.3 1477.2,624.2C1478.6,625.1 1480.0,626.1 1481.3,627.0C1482.7,628.0 1484.1,628.9 1485.4,629.9C1486.8,630.9 1488.1,631.9 1489.4,632.9C1490.8,633.9 1492.1,635.0 1493.3,636.0C1494.6,637.1 1495.9,638.2 1497.1,639.3C1498.4,640.4 1499.6,641.5 1500.8,642.6C1502.1,643.7 1503.3,644.9 1504.4,646.1C1505.6,647.2 1506.8,648.4 1507.9,649.6C1509.1,650.8 1510.2,652.0 1511.3,653.3C1512.4,654.5 1513.5,655.7 1514.6,657.0C1515.7,658.3 1516.8,659.5 1517.8,660.8C1518.9,662.1 1519.9,663.4 1521.0,664.7C1522.0,666.0 1523.0,667.3 1524.0,668.7C1525.0,670.0 1526.0,671.3 1527.0,672.7C1528.0,674.0 1529.0,675.4 1530.0,676.7C1530.9,678.1 1531.9,679.4 1532.9,680.8C1533.8,682.2 1534.8,683.6 1535.7,684.9C1536.6,686.3 1537.6,687.7 1538.5,689.1C1539.4,690.5 1540.4,691.9 1541.3,693.3C1542.2,694.7 1543.1,696.1 1544.0,697.5C1544.9,698.9 1545.8,700.3 1546.7,701.7C1547.6,703.1 1548.5,704.5 1549.4,705.9C1550.2,707.4 1551.1,708.8 1552.0,710.2C1552.9,711.6 1553.7,713.1 1554.6,714.5C1555.4,715.9 1556.3,717.3 1557.1,718.8C1558.0,720.2 1558.8,721.7 1559.7,723.1C1560.5,724.5 1561.3,726.0 1562.2,727.4C1563.0,728.9 1563.8,730.3 1564.6,731.8C1565.5,733.2 1566.3,734.7 1567.1,736.2C1567.9,737.6 1568.7,739.1 1569.5,740.5C1570.3,742.0 1571.1,743.5 1571.9,744.9C1572.7,746.4 1573.5,747.9 1574.3,749.3C1575.1,750.8 1575.8,752.3 1576.6,753.7C1577.4,755.2 1578.2,756.7 1578.9,758.2C1579.7,759.6 1580.5,761.1 1581.2,762.6C1582.0,764.1 1582.8,765.6 1583.5,767.1C1584.3,768.5 1585.0,770.0 1585.8,771.5C1586.5,773.0 1587.3,774.5 1588.0,776.0C1588.8,777.5 1589.5,778.9 1590.3,780.4C1591.0,781.9 1591.8,783.4 1592.5,784.9C1593.2,786.4 1594.0,787.9 1594.7,789.4C1595.4,790.9 1596.2,792.4 1596.9,793.9C1597.6,795.4 1598.3,796.9 1599.1,798.4C1599.8,799.9 1600.5,801.4 1601.2,802.9C1601.9,804.4 1602.6,805.9 1603.3,807.4C1604.0,808.9 1604.8,810.4 1605.5,811.9C1606.2,813.4 1606.9,814.9 1607.5,816.4C1608.2,817.9 1608.9,819.4 1609.6,821.0C1610.3,822.5 1611.0,824.0 1611.7,825.5C1612.3,827.0 1613.0,828.5 1613.7,830.1C1614.4,831.6 1615.0,833.1 1615.7,834.6C1616.3,836.2 1617.0,837.7 1617.7,839.2C1618.3,840.8 1619.0,842.3 1619.6,843.8C1620.2,845.4 1620.9,846.9 1621.5,848.4C1622.2,850.0 1622.8,851.5 1623.4,853.1C1624.0,854.6 1624.7,856.1 1625.3,857.7C1625.9,859.2 1626.5,860.8 1627.1,862.3C1627.7,863.9 1628.3,865.5 1628.9,867.0C1629.5,868.6 1630.1,870.1 1630.7,871.7C1631.3,873.3 1631.8,874.8 1632.4,876.4C1633.0,878.0 1633.6,879.5 1634.1,881.1C1634.7,882.7 1635.2,884.3 1635.8,885.9C1636.3,887.4 1636.9,889.0 1637.4,890.6C1638.0,892.2 1638.5,893.8 1639.0,895.4C1639.5,897.0 1640.0,898.6 1640.6,900.1C1641.1,901.7 1641.6,903.3 1642.1,904.9C1642.5,906.5 1643.0,908.1 1643.5,909.7C1644.0,911.3 1644.5,912.9 1644.9,914.5C1645.4,916.0 1645.8,917.6 1646.3,919.2C1646.8,920.8 1647.2,922.4 1647.7,924.0C1648.1,925.6 1648.5,927.2 1649.0,928.8C1649.4,930.4 1649.9,932.0 1650.3,933.6C1650.8,935.1 1651.2,936.7 1651.6,938.3C1652.1,939.9 1652.5,941.5 1653.0,943.1C1653.4,944.7 1653.9,946.3 1654.3,947.9C1654.8,949.5 1655.2,951.1 1655.7,952.7C1656.2,954.3 1656.6,956.0 1657.1,957.6C1657.6,959.2 1658.1,960.8 1658.6,962.4C1659.1,964.0 1659.6,965.6 1660.1,967.2C1660.6,968.9 1661.1,970.5 1661.6,972.1C1662.2,973.7 1662.7,975.3 1663.3,977.0C1663.8,978.6 1664.4,980.3 1665.0,981.9C1665.6,983.5 1666.2,985.1 1666.9,986.6C1667.6,988.1 1668.4,989.6 1669.3,990.9C1670.2,992.2 1671.2,993.5 1672.3,994.2C1673.4,995.0 1674.7,995.4 1676.1,995.5C1677.4,995.5 1679.0,995.0 1680.5,994.5C1682.0,993.9 1683.7,993.1 1685.2,992.2C1686.8,991.4 1688.3,990.3 1689.7,989.3C1691.2,988.2 1692.5,987.1 1693.8,985.9C1695.0,984.8 1696.1,983.5 1697.2,982.2C1698.3,981.0 1699.2,979.6 1700.2,978.3C1701.1,976.9 1701.9,975.5 1702.7,974.0C1703.5,972.6 1704.2,971.1 1704.9,969.6C1705.6,968.1 1706.2,966.6 1706.8,965.0C1707.5,963.5 1708.0,961.9 1708.6,960.3C1709.1,958.8 1709.7,957.2 1710.2,955.6C1710.7,954.0 1711.2,952.5 1711.7,950.9C1712.2,949.3 1712.6,947.7 1713.1,946.1C1713.6,944.5 1714.0,942.9 1714.4,941.3C1714.9,939.7 1715.3,938.1 1715.7,936.5C1716.1,934.9 1716.5,933.2 1716.9,931.6C1717.3,930.0 1717.6,928.4 1718.0,926.8C1718.3,925.1 1718.7,923.5 1719.0,921.9C1719.4,920.2 1719.7,918.6 1720.0,917.0C1720.3,915.3 1720.6,913.7 1720.9,912.1C1721.2,910.4 1721.5,908.8 1721.8,907.1C1722.1,905.5 1722.4,903.9 1722.6,902.2C1722.9,900.6 1723.2,898.9 1723.4,897.3C1723.7,895.6 1723.9,894.0 1724.2,892.3C1724.4,890.7 1724.6,889.0 1724.9,887.3C1725.1,885.7 1725.3,884.0 1725.5,882.4C1725.7,880.7 1725.9,879.0 1726.2,877.4C1726.4,875.7 1726.6,874.1 1726.8,872.4C1727.0,870.7 1727.2,869.1 1727.4,867.4C1727.6,865.8 1727.7,864.1 1727.9,862.4C1728.1,860.8 1728.3,859.1 1728.5,857.5C1728.7,855.8 1728.9,854.1 1729.1,852.5C1729.2,850.8 1729.4,849.2 1729.6,847.5C1729.8,845.8 1730.0,844.2 1730.2,842.5C1730.3,840.9 1730.5,839.2 1730.7,837.5C1730.9,835.9 1731.1,834.2 1731.2,832.6C1731.4,830.9 1731.6,829.3 1731.8,827.6C1732.0,826.0 1732.1,824.3 1732.3,822.6C1732.5,821.0 1732.7,819.3 1732.8,817.7C1733.0,816.0 1733.2,814.4 1733.4,812.7C1733.5,811.1 1733.7,809.4 1733.9,807.8C1734.1,806.1 1734.2,804.4 1734.4,802.8C1734.6,801.1 1734.8,799.5 1734.9,797.8C1735.1,796.2 1735.3,794.5 1735.4,792.9C1735.6,791.2 1735.8,789.6 1735.9,787.9C1736.1,786.3 1736.3,784.6 1736.4,782.9C1736.6,781.3 1736.8,779.6 1736.9,778.0C1737.1,776.3 1737.3,774.7 1737.4,773.0C1737.6,771.4 1737.8,769.7 1737.9,768.0C1738.1,766.4 1738.2,764.7 1738.4,763.1C1738.6,761.4 1738.7,759.8 1738.9,758.1C1739.0,756.4 1739.2,754.8 1739.3,753.1C1739.5,751.5 1739.7,749.8 1739.8,748.1C1740.0,746.5 1740.1,744.8 1740.3,743.2C1740.4,741.5 1740.6,739.8 1740.7,738.2C1740.9,736.5 1741.0,734.9 1741.2,733.2C1741.4,731.5 1741.5,729.9 1741.7,728.2C1741.8,726.5 1742.0,724.9 1742.1,723.2C1742.3,721.6 1742.5,719.9 1742.6,718.2C1742.8,716.6 1743.0,714.9 1743.1,713.3C1743.3,711.6 1743.5,709.9 1743.7,708.3C1743.8,706.6 1744.0,705.0 1744.2,703.3C1744.4,701.6 1744.6,700.0 1744.8,698.3C1744.9,696.7 1745.1,695.0 1745.3,693.4C1745.5,691.7 1745.7,690.0 1745.9,688.4C1746.1,686.7 1746.4,685.1 1746.6,683.4C1746.8,681.8 1747.0,680.1 1747.2,678.5C1747.5,676.8 1747.7,675.2 1747.9,673.5C1748.2,671.9 1748.4,670.2 1748.7,668.6C1748.9,666.9 1749.2,665.3 1749.4,663.6C1749.7,662.0 1750.0,660.4 1750.2,658.7C1750.5,657.1 1750.8,655.4 1751.1,653.8C1751.4,652.2 1751.7,650.5 1752.0,648.9C1752.3,647.3 1752.6,645.6 1752.9,644.0C1753.2,642.4 1753.6,640.7 1753.9,639.1C1754.3,637.5 1754.6,635.8 1755.0,634.2C1755.3,632.6 1755.7,631.0 1756.1,629.3C1756.5,627.7 1756.8,626.1 1757.2,624.5C1757.7,622.9 1758.1,621.3 1758.5,619.7C1758.9,618.0 1759.4,616.4 1759.9,614.8C1760.3,613.2 1760.8,611.6 1761.3,610.0C1761.8,608.4 1762.3,606.9 1762.9,605.3C1763.4,603.7 1764.0,602.1 1764.6,600.5C1765.1,598.9 1765.7,597.4 1766.4,595.8C1767.0,594.3 1767.7,592.7 1768.4,591.2C1769.1,589.7 1769.9,588.1 1770.7,586.7C1771.6,585.3 1772.5,584.0 1773.6,582.7C1774.7,581.5 1775.9,580.3 1777.2,579.2C1778.5,578.2 1779.9,577.3 1781.3,576.4C1782.8,575.6 1784.3,574.9 1785.9,574.2C1787.4,573.6 1789.0,573.1 1790.6,572.6C1792.2,572.2 1793.9,571.9 1795.5,571.5C1797.2,571.2 1798.8,571.0 1800.5,570.7C1802.2,570.5 1803.8,570.3 1805.5,570.1C1807.1,570.0 1808.8,569.8 1810.5,569.7C1812.1,569.5 1813.8,569.4 1815.4,569.3C1817.1,569.2 1818.8,569.1 1820.4,569.0C1822.1,568.9 1823.7,568.8 1825.4,568.7C1827.1,568.6 1828.7,568.6 1830.4,568.5C1832.1,568.4 1833.7,568.3 1835.4,568.2C1837.1,568.1 1838.7,568.0 1840.4,567.9C1842.0,567.9 1843.7,567.8 1845.4,567.7C1847.0,567.6 1848.7,567.5 1850.4,567.4C1852.0,567.3 1853.7,567.3 1855.4,567.2C1857.0,567.1 1858.7,567.0 1860.4,566.9C1862.0,566.9 1863.7,566.8 1865.4,566.7C1867.0,566.7 1868.7,566.6 1870.4,566.5C1872.0,566.5 1873.7,566.4 1875.3,566.3C1877.0,566.3 1878.7,566.2 1880.3,566.2C1882.0,566.2 1883.7,566.1 1885.3,566.1C1887.0,566.0 1888.7,566.0 1890.3,566.0C1892.0,565.9 1893.7,565.9 1895.3,565.9C1897.0,565.9 1891.2,566.0 1900.0,565.9C1908.8,565.9 1932.0,565.6 1948.0,565.5C1964.0,565.3 1980.0,565.2 1996.0,565.0C2012.0,564.9 2028.0,564.7 2044.0,564.4C2060.0,564.2 2076.0,564.0 2092.0,563.7C2108.0,563.4 2124.0,563.0 2140.0,562.6C2156.0,562.1 2172.0,561.7 2188.0,561.1C2204.0,560.5 2227.1,559.5 2236.0,559.1C2244.9,558.7 2240.6,558.9 2241.5,558.8"/>
<path class="c" stroke="#f00" d="M134.0,558.0C142.8,558.3 169.3,559.3 187.0,559.9C204.7,560.5 222.3,561.1 240.0,561.6C257.7,562.2 275.3,562.7 293.0,563.2C310.7,563.8 328.3,564.3 346.0,564.9C363.7,565.5 381.3,566.1 399.0,566.8C416.7,567.4 434.3,568.2 452.0,569.0C469.7,569.8 487.3,570.7 505.0,571.6C522.7,572.5 540.3,573.5 558.0,574.6C575.7,575.6 593.3,576.7 611.0,577.8C628.7,578.9 646.3,580.1 664.0,581.3C681.7,582.4 699.3,583.7 717.0,584.9C734.7,586.1 752.3,587.4 770.0,588.7C787.7,590.0 805.3,591.3 823.0,592.6C840.7,593.9 858.3,595.3 876.0,596.7C893.7,598.1 911.3,599.5 929.0,600.9C946.7,602.3 964.3,603.8 982.0,605.3C999.7,606.8 1017.3,608.3 1035.0,609.9C1052.7,611.4 1070.3,613.0 1088.0,614.6C1105.7,616.3 1123.3,617.9 1141.0,619.6C1158.7,621.3 1176.3,623.0 1194.0,624.7C1211.7,626.5 1229.3,628.2 1247.0,630.0C1264.7,631.9 1290.4,635.0 1300.0,636.1C1309.7,637.1 1303.3,636.4 1305.0,636.6C1306.7,636.8 1308.3,637.0 1310.0,637.1C1311.6,637.3 1313.3,637.5 1314.9,637.7C1316.6,637.9 1318.2,638.0 1319.9,638.2C1321.5,638.4 1323.2,638.6 1324.8,638.8C1326.5,638.9 1328.2,639.1 1329.8,639.3C1331.5,639.5 1333.1,639.6 1334.8,639.8C1336.4,640.0 1338.1,640.1 1339.7,640.3C1341.4,640.5 1343.0,640.6 1344.7,640.8C1346.3,641.0 1348.0,641.2 1349.6,641.3C1351.2,641.5 1352.9,641.7 1354.5,641.9C1356.2,642.1 1357.8,642.3 1359.5,642.5C1361.1,642.7 1362.8,642.9 1364.4,643.1C1366.0,643.3 1367.7,643.6 1369.3,643.8C1371.0,644.0 1372.6,644.3 1374.2,644.6C1375.9,644.8 1377.5,645.1 1379.2,645.4C1380.8,645.7 1382.4,646.0 1384.1,646.3C1385.7,646.7 1387.3,647.0 1389.0,647.4C1390.6,647.7 1392.2,648.1 1393.8,648.5C1395.5,648.9 1397.1,649.4 1398.7,649.8C1400.3,650.3 1402.0,650.7 1403.6,651.2C1405.2,651.7 1406.8,652.3 1408.4,652.8C1410.1,653.4 1411.7,654.0 1413.3,654.6C1414.9,655.2 1416.5,655.8 1418.1,656.5C1419.7,657.2 1421.2,657.9 1422.8,658.6C1424.3,659.3 1425.8,660.1 1427.3,660.9C1428.8,661.7 1430.3,662.6 1431.7,663.4C1433.1,664.3 1434.5,665.3 1435.8,666.2C1437.1,667.2 1438.4,668.2 1439.7,669.3C1440.9,670.3 1442.1,671.4 1443.2,672.6C1444.3,673.7 1445.4,674.9 1446.4,676.1C1447.4,677.3 1448.3,678.6 1449.3,679.9C1450.2,681.2 1451.1,682.6 1451.9,684.0C1452.7,685.3 1453.5,686.7 1454.3,688.2C1455.0,689.6 1455.7,691.1 1456.4,692.6C1457.1,694.1 1457.8,695.6 1458.4,697.1C1459.0,698.7 1459.6,700.2 1460.2,701.8C1460.8,703.4 1461.4,705.0 1461.9,706.6C1462.5,708.2 1463.0,709.8 1463.5,711.4C1464.1,713.0 1464.6,714.7 1465.1,716.3C1465.6,718.0 1466.1,719.6 1466.6,721.2C1467.1,722.9 1467.6,724.5 1468.1,726.2C1468.7,727.8 1469.2,729.5 1469.7,731.1C1470.2,732.8 1470.8,734.4 1471.3,736.0C1471.9,737.6 1472.4,739.2 1473.0,740.8C1473.6,742.4 1474.2,744.0 1474.8,745.6C1475.4,747.2 1476.1,748.7 1476.7,750.3C1477.4,751.8 1478.1,753.3 1478.8,754.8C1479.5,756.3 1480.2,757.8 1481.0,759.3C1481.8,760.7 1482.6,762.1 1483.4,763.5C1484.2,764.9 1485.1,766.3 1486.0,767.6C1486.9,769.0 1487.8,770.3 1488.8,771.5C1489.8,772.8 1490.8,774.1 1491.9,775.3C1493.0,776.5 1494.1,777.6 1495.2,778.7C1496.4,779.9 1497.6,780.9 1498.9,782.0C1500.1,783.0 1501.5,784.0 1502.8,785.0C1504.2,785.9 1505.6,786.8 1507.0,787.7C1508.4,788.6 1509.9,789.5 1511.3,790.4C1512.8,791.2 1514.3,792.1 1515.8,793.0C1517.2,793.8 1518.7,794.7 1520.2,795.5C1521.7,796.4 1523.1,797.3 1524.6,798.2C1526.0,799.1 1527.4,800.0 1528.8,801.0C1530.2,802.0 1531.5,803.0 1532.8,804.1C1534.1,805.1 1535.3,806.2 1536.5,807.4C1537.7,808.5 1538.9,809.6 1540.0,810.8C1541.1,812.0 1542.2,813.3 1543.3,814.5C1544.4,815.8 1545.4,817.1 1546.4,818.4C1547.4,819.7 1548.3,821.1 1549.3,822.4C1550.2,823.8 1551.1,825.2 1552.0,826.6C1552.8,828.0 1553.7,829.4 1554.5,830.8C1555.3,832.3 1556.1,833.7 1556.9,835.2C1557.7,836.6 1558.5,838.1 1559.2,839.6C1560.0,841.1 1560.7,842.6 1561.4,844.1C1562.1,845.6 1562.8,847.2 1563.5,848.7C1564.2,850.2 1564.9,851.8 1565.6,853.3C1566.3,854.8 1567.0,856.4 1567.6,857.9C1568.3,859.5 1569.0,861.0 1569.7,862.5C1570.3,864.1 1571.0,865.6 1571.7,867.2C1572.4,868.7 1573.0,870.2 1573.7,871.8C1574.4,873.3 1575.1,874.8 1575.8,876.3C1576.5,877.9 1577.2,879.4 1577.9,880.9C1578.6,882.4 1579.3,883.9 1580.0,885.4C1580.7,887.0 1581.4,888.5 1582.1,890.0C1582.9,891.5 1583.6,893.0 1584.3,894.5C1585.0,896.0 1585.6,897.5 1586.3,899.0C1587.0,900.6 1587.7,902.1 1588.4,903.6C1589.1,905.1 1589.7,906.6 1590.4,908.1C1591.1,909.7 1591.7,911.2 1592.4,912.7C1593.0,914.3 1593.7,915.8 1594.3,917.3C1594.9,918.9 1595.6,920.4 1596.2,921.9C1596.8,923.5 1597.4,925.0 1598.0,926.6C1598.7,928.1 1599.3,929.7 1599.9,931.2C1600.5,932.8 1601.1,934.3 1601.7,935.9C1602.3,937.4 1602.9,939.0 1603.5,940.5C1604.1,942.1 1604.7,943.6 1605.3,945.2C1605.9,946.7 1606.5,948.3 1607.1,949.8C1607.7,951.4 1608.3,952.9 1608.9,954.5C1609.6,956.0 1610.2,957.6 1610.8,959.1C1611.4,960.7 1612.0,962.2 1612.7,963.8C1613.3,965.3 1613.9,966.8 1614.6,968.4C1615.2,969.9 1615.9,971.5 1616.5,973.0C1617.2,974.5 1617.9,976.1 1618.6,977.6C1619.2,979.1 1619.9,980.6 1620.6,982.2C1621.3,983.7 1622.0,985.2 1622.7,986.7C1623.4,988.3 1624.1,989.8 1624.8,991.3C1625.5,992.8 1626.2,994.3 1626.9,995.8C1627.6,997.3 1628.4,998.9 1629.1,1000.4C1629.8,1001.9 1630.5,1003.4 1631.2,1004.9C1631.9,1006.4 1632.6,1007.9 1633.3,1009.4C1634.0,1010.9 1634.7,1012.5 1635.4,1014.0C1636.1,1015.5 1636.8,1017.0 1637.5,1018.5C1638.2,1020.0 1638.9,1021.5 1639.6,1023.0C1640.3,1024.5 1640.9,1026.1 1641.6,1027.6C1642.3,1029.1 1642.9,1030.6 1643.6,1032.1C1644.2,1033.6 1644.8,1035.2 1645.5,1036.7C1646.1,1038.2 1646.7,1039.7 1647.3,1041.3C1647.9,1042.8 1648.5,1044.3 1649.2,1045.8C1649.8,1047.4 1650.5,1048.9 1651.2,1050.4C1651.9,1051.9 1652.7,1053.5 1653.5,1055.0C1654.3,1056.5 1655.2,1058.1 1656.2,1059.5C1657.2,1061.0 1658.2,1062.6 1659.4,1063.8C1660.5,1065.1 1661.7,1066.3 1663.0,1067.1C1664.3,1067.9 1665.7,1068.5 1667.2,1068.6C1668.6,1068.6 1670.2,1068.2 1671.6,1067.6C1672.9,1066.9 1674.2,1065.8 1675.3,1064.5C1676.4,1063.3 1677.2,1061.7 1678.1,1060.1C1678.9,1058.6 1679.6,1056.9 1680.3,1055.3C1681.0,1053.6 1681.6,1052.0 1682.4,1050.4C1683.1,1048.8 1683.8,1047.2 1684.6,1045.8C1685.4,1044.4 1686.3,1043.0 1687.3,1041.8C1688.4,1040.6 1689.6,1039.6 1690.9,1038.7C1692.2,1037.8 1693.7,1037.0 1695.2,1036.4C1696.7,1035.8 1698.4,1035.3 1700.1,1035.0C1701.7,1034.6 1703.5,1034.4 1705.2,1034.2C1706.9,1034.1 1708.7,1034.2 1710.3,1033.8C1711.9,1033.5 1713.4,1033.2 1714.7,1032.3C1716.1,1031.5 1717.1,1030.2 1718.2,1028.9C1719.2,1027.7 1720.2,1026.3 1721.1,1024.9C1721.9,1023.5 1722.8,1022.1 1723.5,1020.7C1724.3,1019.2 1725.0,1017.7 1725.6,1016.2C1726.3,1014.7 1726.8,1013.2 1727.4,1011.6C1727.9,1010.0 1728.5,1008.5 1728.9,1006.9C1729.4,1005.3 1729.8,1003.6 1730.2,1002.0C1730.7,1000.4 1731.0,998.7 1731.4,997.1C1731.8,995.4 1732.1,993.8 1732.5,992.1C1732.8,990.5 1733.1,988.8 1733.5,987.2C1733.8,985.5 1734.1,983.9 1734.5,982.2C1734.8,980.6 1735.1,978.9 1735.4,977.3C1735.7,975.6 1736.0,974.0 1736.3,972.3C1736.6,970.7 1736.9,969.0 1737.2,967.4C1737.5,965.7 1737.8,964.1 1738.1,962.5C1738.4,960.8 1738.7,959.2 1739.0,957.5C1739.3,955.9 1739.6,954.3 1739.8,952.6C1740.1,951.0 1740.4,949.3 1740.7,947.7C1740.9,946.1 1741.2,944.4 1741.5,942.8C1741.7,941.2 1742.0,939.5 1742.2,937.9C1742.5,936.2 1742.8,934.6 1743.0,933.0C1743.3,931.3 1743.5,929.7 1743.7,928.1C1744.0,926.4 1744.2,924.8 1744.5,923.1C1744.7,921.5 1744.9,919.9 1745.2,918.2C1745.4,916.6 1745.6,914.9 1745.9,913.3C1746.1,911.6 1746.3,910.0 1746.5,908.3C1746.8,906.7 1747.0,905.0 1747.2,903.4C1747.4,901.7 1747.6,900.1 1747.9,898.4C1748.1,896.8 1748.3,895.1 1748.5,893.5C1748.7,891.8 1748.9,890.2 1749.1,888.5C1749.3,886.9 1749.5,885.2 1749.7,883.6C1749.9,881.9 1750.1,880.3 1750.3,878.6C1750.5,876.9 1750.7,875.3 1750.9,873.6C1751.1,872.0 1751.3,870.3 1751.5,868.7C1751.7,867.0 1751.9,865.3 1752.1,863.7C1752.3,862.0 1752.5,860.4 1752.7,858.7C1752.9,857.0 1753.1,855.4 1753.3,853.7C1753.5,852.1 1753.7,850.4 1753.9,848.7C1754.1,847.1 1754.2,845.4 1754.4,843.8C1754.6,842.1 1754.8,840.4 1755.0,838.8C1755.2,837.1 1755.4,835.5 1755.6,833.8C1755.8,832.1 1756.0,830.5 1756.2,828.8C1756.4,827.2 1756.6,825.5 1756.8,823.9C1757.0,822.2 1757.2,820.5 1757.4,818.9C1757.6,817.2 1757.8,815.6 1758.1,813.9C1758.3,812.3 1758.5,810.6 1758.7,808.9C1758.9,807.3 1759.1,805.6 1759.3,804.0C1759.6,802.3 1759.8,800.7 1760.0,799.0C1760.2,797.4 1760.4,795.7 1760.7,794.1C1760.9,792.4 1761.1,790.8 1761.4,789.1C1761.6,787.5 1761.8,785.8 1762.1,784.2C1762.3,782.5 1762.5,780.9 1762.8,779.2C1763.0,777.6 1763.3,775.9 1763.5,774.3C1763.8,772.7 1764.1,771.0 1764.3,769.4C1764.6,767.7 1764.8,766.1 1765.1,764.5C1765.4,762.8 1765.6,761.2 1765.9,759.5C1766.2,757.9 1766.5,756.3 1766.8,754.6C1767.1,753.0 1767.4,751.4 1767.7,749.7C1768.0,748.1 1768.3,746.5 1768.6,744.8C1768.9,743.2 1769.2,741.6 1769.5,740.0C1769.9,738.3 1770.2,736.7 1770.5,735.1C1770.9,733.4 1771.2,731.8 1771.6,730.2C1771.9,728.5 1772.3,726.9 1772.7,725.3C1773.1,723.7 1773.4,722.0 1773.8,720.4C1774.2,718.8 1774.6,717.1 1775.0,715.5C1775.4,713.9 1775.8,712.3 1776.3,710.6C1776.7,709.0 1777.1,707.4 1777.6,705.8C1778.1,704.1 1778.5,702.5 1779.0,700.9C1779.5,699.3 1780.0,697.7 1780.6,696.1C1781.1,694.5 1781.7,693.0 1782.3,691.4C1783.0,689.9 1783.6,688.4 1784.3,686.9C1785.1,685.4 1785.8,683.9 1786.6,682.5C1787.4,681.0 1788.3,679.6 1789.2,678.2C1790.2,676.9 1791.2,675.5 1792.2,674.2C1793.3,673.0 1794.4,671.7 1795.6,670.5C1796.8,669.3 1798.0,668.2 1799.3,667.1C1800.6,666.1 1801.9,665.1 1803.3,664.2C1804.7,663.3 1806.1,662.4 1807.6,661.7C1809.1,661.0 1810.6,660.3 1812.2,659.8C1813.7,659.2 1815.3,658.8 1817.0,658.4C1818.6,658.1 1820.2,657.8 1821.9,657.6C1823.6,657.4 1825.3,657.3 1827.0,657.1C1828.7,657.0 1830.4,657.0 1832.1,656.9C1833.8,656.9 1835.5,656.8 1837.2,656.8C1838.9,656.8 1840.6,656.7 1842.2,656.7C1843.9,656.6 1845.6,656.6 1847.3,656.6C1848.9,656.5 1850.6,656.5 1852.2,656.5C1853.9,656.4 1855.6,656.4 1857.2,656.4C1858.9,656.4 1860.5,656.4 1862.2,656.4C1863.8,656.3 1865.5,656.3 1867.1,656.4C1868.8,656.4 1870.5,656.4 1872.1,656.4C1873.8,656.4 1875.4,656.4 1877.1,656.5C1878.7,656.5 1880.4,656.5 1882.1,656.6C1883.7,656.6 1885.4,656.7 1887.1,656.7C1888.7,656.8 1890.4,656.8 1892.0,656.9C1893.7,657.0 1895.7,657.0 1897.0,657.1C1898.4,657.2 1891.5,657.2 1900.0,657.7C1908.5,658.2 1932.0,659.1 1948.0,659.9C1964.0,660.8 1980.0,661.9 1996.0,663.0C2012.0,664.1 2028.0,665.4 2044.0,666.6C2060.0,667.9 2076.0,669.3 2092.0,670.7C2108.0,672.0 2124.0,673.5 2140.0,674.9C2156.0,676.3 2172.0,677.7 2188.0,679.1C2204.0,680.5 2227.1,682.3 2236.0,683.1C2244.9,683.8 2240.6,683.4 2241.5,683.5"/>
<path class="c" stroke="#00f" d="M134.0,658.4C142.8,658.7 169.3,659.6 187.0,660.1C204.7,660.6 222.3,661.0 240.0,661.4C257.7,661.8 275.3,662.2 293.0,662.6C310.7,663.0 328.3,663.5 346.0,663.9C363.7,664.4 381.3,665.0 399.0,665.6C416.7,666.2 434.3,666.9 452.0,667.7C469.7,668.4 487.3,669.3 505.0,670.1C522.7,671.0 540.3,672.0 558.0,673.0C575.7,673.9 593.3,675.0 611.0,676.0C628.7,677.1 646.3,678.2 664.0,679.3C681.7,680.4 699.3,681.6 717.0,682.7C734.7,683.9 752.3,685.1 770.0,686.3C787.7,687.4 805.3,688.6 823.0,689.9C840.7,691.1 858.3,692.3 876.0,693.6C893.7,694.8 911.3,696.1 929.0,697.4C946.7,698.7 964.3,700.0 982.0,701.4C999.7,702.8 1017.3,704.1 1035.0,705.6C1052.7,707.0 1070.3,708.4 1088.0,709.9C1105.7,711.4 1123.3,712.9 1141.0,714.4C1158.7,716.0 1176.3,717.6 1194.0,719.2C1211.7,720.8 1229.3,722.5 1247.0,724.2C1264.7,725.9 1290.3,728.5 1300.0,729.5C1309.7,730.4 1303.3,729.8 1305.0,730.0C1306.6,730.2 1308.3,730.3 1310.0,730.5C1311.6,730.7 1313.3,730.9 1314.9,731.1C1316.6,731.2 1318.2,731.4 1319.9,731.6C1321.5,731.8 1323.2,732.0 1324.9,732.2C1326.5,732.3 1328.2,732.5 1329.8,732.7C1331.5,732.9 1333.1,733.1 1334.8,733.3C1336.4,733.5 1338.1,733.6 1339.7,733.8C1341.4,734.0 1343.1,734.2 1344.7,734.4C1346.4,734.6 1348.0,734.8 1349.7,735.0C1351.3,735.2 1353.0,735.4 1354.6,735.6C1356.3,735.8 1357.9,736.0 1359.6,736.2C1361.2,736.4 1362.9,736.6 1364.5,736.8C1366.2,737.0 1367.9,737.2 1369.5,737.4C1371.2,737.6 1372.8,737.8 1374.5,738.0C1376.1,738.1 1377.8,738.4 1379.4,738.6C1381.1,738.8 1382.7,739.0 1384.4,739.2C1386.1,739.4 1387.7,739.6 1389.4,739.8C1391.0,740.0 1392.7,740.2 1394.3,740.4C1396.0,740.6 1397.7,740.8 1399.3,741.0C1401.0,741.2 1402.6,741.4 1404.3,741.6C1405.9,741.8 1407.6,742.0 1409.3,742.2C1410.9,742.4 1412.6,742.6 1414.2,742.8C1415.9,743.0 1417.6,743.2 1419.2,743.4C1420.9,743.7 1422.5,743.9 1424.2,744.2C1425.8,744.4 1427.4,744.7 1429.1,745.1C1430.7,745.4 1432.3,745.7 1433.9,746.1C1435.6,746.5 1437.2,746.9 1438.8,747.4C1440.4,747.9 1441.9,748.4 1443.5,749.0C1445.1,749.5 1446.6,750.1 1448.2,750.8C1449.7,751.5 1451.2,752.2 1452.7,753.0C1454.2,753.8 1455.7,754.6 1457.1,755.5C1458.5,756.4 1459.9,757.3 1461.3,758.3C1462.6,759.3 1464.0,760.3 1465.2,761.4C1466.5,762.5 1467.8,763.6 1468.9,764.8C1470.1,766.0 1471.2,767.2 1472.3,768.4C1473.4,769.7 1474.4,771.0 1475.3,772.4C1476.3,773.7 1477.2,775.1 1478.0,776.5C1478.9,777.9 1479.7,779.4 1480.4,780.9C1481.2,782.4 1481.9,783.9 1482.6,785.4C1483.3,786.9 1484.0,788.5 1484.6,790.0C1485.2,791.6 1485.8,793.2 1486.4,794.7C1486.9,796.3 1487.5,797.9 1488.0,799.5C1488.6,801.1 1489.1,802.7 1489.6,804.3C1490.1,805.9 1490.6,807.5 1491.1,809.1C1491.5,810.7 1492.0,812.3 1492.5,813.9C1492.9,815.5 1493.4,817.1 1493.8,818.7C1494.2,820.3 1494.7,821.9 1495.1,823.5C1495.5,825.1 1496.0,826.7 1496.4,828.3C1496.8,829.9 1497.2,831.6 1497.6,833.2C1498.0,834.8 1498.5,836.4 1498.9,838.0C1499.3,839.6 1499.7,841.2 1500.1,842.8C1500.5,844.4 1501.0,846.0 1501.4,847.6C1501.8,849.2 1502.2,850.8 1502.7,852.4C1503.1,854.1 1503.6,855.7 1504.0,857.3C1504.5,858.9 1504.9,860.5 1505.4,862.1C1505.9,863.7 1506.4,865.3 1506.9,866.8C1507.4,868.4 1507.9,870.0 1508.4,871.6C1509.0,873.2 1509.5,874.8 1510.1,876.4C1510.7,878.0 1511.2,879.5 1511.9,881.1C1512.5,882.7 1513.1,884.2 1513.8,885.8C1514.4,887.3 1515.1,888.8 1515.8,890.3C1516.6,891.9 1517.3,893.3 1518.1,894.8C1518.9,896.3 1519.7,897.7 1520.6,899.1C1521.4,900.5 1522.4,901.9 1523.3,903.3C1524.2,904.7 1525.2,906.0 1526.2,907.3C1527.2,908.7 1528.2,910.0 1529.2,911.3C1530.2,912.6 1531.3,913.9 1532.4,915.1C1533.4,916.4 1534.5,917.7 1535.6,919.0C1536.7,920.2 1537.8,921.5 1538.9,922.8C1540.0,924.0 1541.1,925.3 1542.2,926.6C1543.3,927.8 1544.4,929.1 1545.4,930.4C1546.5,931.7 1547.6,932.9 1548.7,934.2C1549.8,935.5 1550.9,936.8 1551.9,938.1C1553.0,939.4 1554.1,940.7 1555.1,942.0C1556.2,943.3 1557.2,944.6 1558.2,945.9C1559.2,947.2 1560.3,948.6 1561.2,949.9C1562.2,951.2 1563.2,952.6 1564.2,953.9C1565.1,955.3 1566.0,956.7 1567.0,958.1C1567.9,959.4 1568.8,960.8 1569.6,962.3C1570.5,963.7 1571.3,965.1 1572.1,966.5C1572.9,968.0 1573.7,969.4 1574.5,970.9C1575.3,972.4 1576.0,973.8 1576.7,975.3C1577.5,976.8 1578.2,978.3 1578.9,979.8C1579.6,981.3 1580.3,982.8 1580.9,984.3C1581.6,985.9 1582.3,987.4 1582.9,988.9C1583.6,990.5 1584.2,992.0 1584.9,993.5C1585.5,995.1 1586.2,996.6 1586.8,998.2C1587.5,999.7 1588.1,1001.3 1588.7,1002.8C1589.4,1004.4 1590.0,1005.9 1590.7,1007.4C1591.4,1009.0 1592.0,1010.5 1592.7,1012.1C1593.4,1013.6 1594.1,1015.1 1594.8,1016.7C1595.4,1018.2 1596.1,1019.7 1596.8,1021.3C1597.5,1022.8 1598.2,1024.3 1598.9,1025.9C1599.6,1027.4 1600.3,1028.9 1601.0,1030.4C1601.7,1032.0 1602.4,1033.5 1603.1,1035.0C1603.8,1036.5 1604.5,1038.0 1605.1,1039.6C1605.8,1041.1 1606.5,1042.6 1607.1,1044.1C1607.8,1045.7 1608.5,1047.2 1609.1,1048.7C1609.8,1050.2 1610.4,1051.7 1611.0,1053.3C1611.7,1054.8 1612.3,1056.3 1613.0,1057.8C1613.6,1059.4 1614.2,1060.9 1614.8,1062.4C1615.5,1063.9 1616.1,1065.5 1616.7,1067.0C1617.4,1068.5 1618.0,1070.0 1618.6,1071.6C1619.2,1073.1 1619.8,1074.6 1620.5,1076.1C1621.1,1077.7 1621.7,1079.2 1622.3,1080.7C1623.0,1082.3 1623.6,1083.8 1624.2,1085.3C1624.8,1086.9 1625.5,1088.4 1626.1,1089.9C1626.7,1091.5 1627.3,1093.0 1628.0,1094.6C1628.6,1096.1 1629.3,1097.6 1629.9,1099.2C1630.5,1100.7 1631.2,1102.3 1631.8,1103.8C1632.5,1105.4 1633.1,1106.9 1633.8,1108.5C1634.5,1110.0 1635.1,1111.6 1635.8,1113.1C1636.5,1114.7 1637.2,1116.3 1637.9,1117.8C1638.5,1119.4 1639.2,1120.9 1639.9,1122.5C1640.6,1124.1 1641.3,1125.6 1642.1,1127.2C1642.9,1128.7 1643.6,1130.2 1644.5,1131.7C1645.3,1133.1 1646.2,1134.6 1647.2,1135.9C1648.2,1137.2 1649.2,1138.5 1650.4,1139.6C1651.5,1140.8 1652.8,1141.8 1654.2,1142.7C1655.5,1143.6 1657.0,1144.4 1658.5,1145.0C1660.1,1145.6 1661.7,1146.0 1663.2,1146.2C1664.8,1146.3 1666.4,1146.3 1667.9,1146.1C1669.5,1145.8 1671.0,1145.3 1672.4,1144.7C1673.8,1144.0 1675.2,1143.1 1676.5,1142.1C1677.7,1141.1 1678.9,1139.9 1680.1,1138.7C1681.3,1137.5 1682.4,1136.1 1683.4,1134.8C1684.5,1133.5 1685.5,1132.1 1686.5,1130.7C1687.5,1129.3 1688.5,1127.9 1689.5,1126.5C1690.5,1125.1 1691.5,1123.7 1692.5,1122.4C1693.5,1121.0 1694.5,1119.7 1695.6,1118.4C1696.6,1117.1 1697.7,1115.8 1698.8,1114.6C1699.8,1113.3 1700.9,1112.1 1702.0,1110.8C1703.1,1109.6 1704.2,1108.4 1705.3,1107.1C1706.3,1105.8 1707.4,1104.6 1708.4,1103.3C1709.4,1102.0 1710.5,1100.7 1711.4,1099.3C1712.4,1098.0 1713.4,1096.6 1714.3,1095.3C1715.3,1093.9 1716.2,1092.5 1717.1,1091.1C1718.0,1089.7 1718.8,1088.3 1719.7,1086.8C1720.5,1085.4 1721.3,1084.0 1722.1,1082.5C1722.9,1081.0 1723.6,1079.5 1724.4,1078.0C1725.1,1076.5 1725.8,1075.0 1726.4,1073.5C1727.1,1072.0 1727.7,1070.4 1728.4,1068.9C1729.0,1067.3 1729.5,1065.8 1730.1,1064.2C1730.6,1062.6 1731.1,1061.0 1731.6,1059.4C1732.1,1057.9 1732.5,1056.3 1732.9,1054.6C1733.4,1053.0 1733.7,1051.4 1734.1,1049.8C1734.5,1048.2 1734.8,1046.5 1735.1,1044.9C1735.5,1043.3 1735.8,1041.6 1736.1,1040.0C1736.4,1038.3 1736.7,1036.7 1736.9,1035.0C1737.2,1033.4 1737.5,1031.7 1737.7,1030.1C1738.0,1028.4 1738.3,1026.8 1738.5,1025.1C1738.8,1023.5 1739.0,1021.8 1739.3,1020.2C1739.6,1018.5 1739.9,1016.9 1740.1,1015.2C1740.4,1013.6 1740.7,1011.9 1741.0,1010.3C1741.3,1008.7 1741.6,1007.0 1741.9,1005.4C1742.2,1003.7 1742.5,1002.1 1742.8,1000.5C1743.1,998.8 1743.4,997.2 1743.7,995.6C1744.0,993.9 1744.3,992.3 1744.6,990.7C1744.9,989.0 1745.2,987.4 1745.5,985.7C1745.7,984.1 1746.0,982.5 1746.3,980.8C1746.6,979.2 1746.9,977.5 1747.2,975.9C1747.4,974.3 1747.7,972.6 1748.0,971.0C1748.2,969.3 1748.5,967.7 1748.8,966.0C1749.0,964.4 1749.3,962.8 1749.6,961.1C1749.8,959.5 1750.1,957.8 1750.3,956.2C1750.6,954.5 1750.9,952.9 1751.1,951.2C1751.4,949.6 1751.6,947.9 1751.9,946.3C1752.1,944.6 1752.4,943.0 1752.6,941.4C1752.8,939.7 1753.1,938.1 1753.3,936.4C1753.6,934.8 1753.8,933.1 1754.1,931.5C1754.3,929.8 1754.5,928.2 1754.8,926.5C1755.0,924.9 1755.3,923.2 1755.5,921.6C1755.7,919.9 1756.0,918.3 1756.2,916.6C1756.4,915.0 1756.7,913.3 1756.9,911.7C1757.1,910.0 1757.4,908.4 1757.6,906.7C1757.8,905.0 1758.1,903.4 1758.3,901.7C1758.6,900.1 1758.8,898.4 1759.0,896.8C1759.3,895.1 1759.5,893.5 1759.7,891.8C1760.0,890.2 1760.2,888.5 1760.4,886.9C1760.7,885.2 1760.9,883.6 1761.2,881.9C1761.4,880.3 1761.6,878.6 1761.9,877.0C1762.1,875.3 1762.4,873.7 1762.6,872.0C1762.8,870.4 1763.1,868.7 1763.3,867.1C1763.6,865.4 1763.8,863.8 1764.1,862.1C1764.3,860.5 1764.6,858.8 1764.8,857.2C1765.1,855.6 1765.3,853.9 1765.6,852.3C1765.9,850.6 1766.1,849.0 1766.4,847.3C1766.7,845.7 1766.9,844.0 1767.2,842.4C1767.5,840.7 1767.7,839.1 1768.0,837.4C1768.3,835.8 1768.6,834.2 1768.8,832.5C1769.1,830.9 1769.4,829.2 1769.7,827.6C1770.0,826.0 1770.3,824.3 1770.6,822.7C1770.9,821.1 1771.3,819.4 1771.6,817.8C1771.9,816.2 1772.3,814.5 1772.6,812.9C1773.0,811.3 1773.3,809.7 1773.7,808.0C1774.1,806.4 1774.5,804.8 1774.9,803.2C1775.3,801.6 1775.7,800.0 1776.1,798.4C1776.6,796.7 1777.0,795.1 1777.5,793.5C1777.9,791.9 1778.4,790.3 1778.9,788.7C1779.4,787.2 1779.9,785.6 1780.4,784.0C1781.0,782.4 1781.5,780.8 1782.1,779.2C1782.6,777.7 1783.2,776.1 1783.8,774.5C1784.4,772.9 1785.1,771.4 1785.7,769.8C1786.4,768.3 1787.1,766.7 1787.8,765.2C1788.5,763.7 1789.3,762.2 1790.1,760.7C1790.9,759.3 1791.8,757.9 1792.7,756.5C1793.7,755.2 1794.7,753.9 1795.8,752.7C1797.0,751.5 1798.2,750.3 1799.4,749.3C1800.7,748.2 1802.0,747.2 1803.4,746.3C1804.8,745.4 1806.3,744.6 1807.8,743.9C1809.3,743.2 1810.9,742.6 1812.5,742.0C1814.1,741.5 1815.7,741.0 1817.3,740.6C1819.0,740.2 1820.6,739.8 1822.2,739.6C1823.9,739.3 1825.5,739.0 1827.2,738.8C1828.9,738.6 1830.5,738.5 1832.2,738.4C1833.9,738.3 1835.5,738.2 1837.2,738.1C1838.9,738.1 1840.5,738.0 1842.2,738.0C1843.9,738.0 1845.6,738.0 1847.2,738.0C1848.9,737.9 1850.6,737.9 1852.3,737.9C1853.9,737.9 1855.6,737.9 1857.3,737.9C1859.0,737.9 1860.6,737.9 1862.3,737.9C1864.0,738.0 1865.6,738.0 1867.3,738.0C1869.0,738.0 1870.6,738.0 1872.3,738.0C1874.0,738.1 1875.6,738.1 1877.3,738.1C1879.0,738.2 1880.6,738.2 1882.3,738.2C1884.0,738.3 1885.6,738.3 1887.3,738.3C1889.0,738.4 1890.6,738.4 1892.3,738.5C1894.0,738.5 1896.0,738.6 1897.3,738.6C1898.6,738.7 1891.5,738.4 1900.0,738.8C1908.5,739.1 1932.0,740.0 1948.0,740.7C1964.0,741.4 1980.0,742.2 1996.0,743.0C2012.0,743.8 2028.0,744.7 2044.0,745.5C2060.0,746.4 2076.0,747.2 2092.0,748.1C2108.0,748.9 2124.0,749.8 2140.0,750.6C2156.0,751.4 2172.0,752.2 2188.0,752.9C2204.0,753.6 2227.1,754.6 2236.0,754.9C2244.9,755.3 2240.6,755.1 2241.5,755.1"/>
<path class="c" stroke="#f0f" d="M134.0,757.1C142.8,757.2 169.3,757.7 187.0,758.1C204.7,758.4 222.3,758.7 240.0,759.0C257.7,759.4 275.3,759.7 293.0,760.0C310.7,760.4 328.3,760.8 346.0,761.2C363.7,761.6 381.3,762.1 399.0,762.6C416.7,763.1 434.3,763.6 452.0,764.2C469.7,764.8 487.3,765.5 505.0,766.1C522.7,766.8 540.3,767.5 558.0,768.3C575.7,769.1 593.3,769.9 611.0,770.7C628.7,771.6 646.3,772.5 664.0,773.4C681.7,774.3 699.3,775.3 717.0,776.3C734.7,777.2 752.3,778.3 770.0,779.3C787.7,780.4 805.3,781.5 823.0,782.6C840.7,783.7 858.3,784.9 876.0,786.0C893.7,787.2 911.3,788.4 929.0,789.7C946.7,790.9 964.3,792.2 982.0,793.5C999.7,794.8 1017.3,796.1 1035.0,797.5C1052.7,798.8 1070.3,800.2 1088.0,801.6C1105.7,803.0 1123.3,804.5 1141.0,805.9C1158.7,807.4 1176.3,808.9 1194.0,810.4C1211.7,812.0 1229.3,813.5 1247.0,815.2C1264.7,816.8 1290.3,819.4 1300.0,820.3C1309.6,821.3 1303.3,820.7 1304.9,820.8C1306.6,821.0 1308.3,821.2 1309.9,821.3C1311.6,821.5 1313.2,821.7 1314.9,821.8C1316.6,822.0 1318.2,822.2 1319.9,822.3C1321.5,822.5 1323.2,822.7 1324.9,822.9C1326.5,823.0 1328.2,823.2 1329.8,823.4C1331.5,823.6 1333.1,823.7 1334.8,823.9C1336.5,824.1 1338.1,824.2 1339.8,824.4C1341.4,824.6 1343.1,824.8 1344.8,824.9C1346.4,825.1 1348.1,825.3 1349.7,825.5C1351.4,825.6 1353.1,825.8 1354.7,826.0C1356.4,826.2 1358.0,826.3 1359.7,826.5C1361.4,826.7 1363.0,826.8 1364.7,827.0C1366.3,827.2 1368.0,827.3 1369.7,827.5C1371.3,827.7 1373.0,827.8 1374.6,828.0C1376.3,828.1 1377.9,828.3 1379.6,828.4C1381.3,828.6 1382.9,828.7 1384.6,828.9C1386.2,829.0 1387.9,829.2 1389.6,829.3C1391.2,829.5 1392.9,829.6 1394.5,829.7C1396.2,829.9 1397.8,830.0 1399.5,830.1C1401.1,830.2 1402.8,830.4 1404.5,830.5C1406.1,830.6 1407.8,830.7 1409.4,830.9C1411.1,831.0 1412.7,831.2 1414.4,831.4C1416.0,831.5 1417.7,831.7 1419.3,832.0C1421.0,832.2 1422.6,832.5 1424.2,832.8C1425.9,833.1 1427.5,833.5 1429.1,833.9C1430.8,834.3 1432.4,834.8 1434.0,835.3C1435.6,835.8 1437.2,836.4 1438.8,837.0C1440.4,837.6 1442.0,838.2 1443.5,838.9C1445.1,839.6 1446.6,840.4 1448.1,841.1C1449.6,841.9 1451.1,842.8 1452.6,843.6C1454.0,844.5 1455.4,845.4 1456.8,846.4C1458.2,847.3 1459.6,848.3 1460.9,849.4C1462.2,850.4 1463.5,851.5 1464.7,852.6C1465.9,853.7 1467.1,854.9 1468.2,856.0C1469.4,857.2 1470.4,858.5 1471.5,859.7C1472.5,861.0 1473.5,862.3 1474.4,863.6C1475.4,864.9 1476.3,866.3 1477.1,867.7C1478.0,869.1 1478.8,870.5 1479.6,871.9C1480.4,873.3 1481.1,874.8 1481.8,876.3C1482.5,877.8 1483.2,879.3 1483.9,880.8C1484.5,882.3 1485.1,883.9 1485.7,885.4C1486.3,887.0 1486.9,888.6 1487.4,890.2C1488.0,891.7 1488.5,893.3 1489.0,895.0C1489.5,896.6 1490.0,898.2 1490.4,899.8C1490.9,901.4 1491.4,903.1 1491.8,904.7C1492.2,906.3 1492.7,908.0 1493.1,909.6C1493.5,911.3 1493.9,912.9 1494.3,914.6C1494.7,916.2 1495.1,917.9 1495.5,919.5C1495.9,921.2 1496.3,922.8 1496.7,924.5C1497.1,926.1 1497.5,927.8 1497.9,929.4C1498.3,931.1 1498.7,932.7 1499.1,934.4C1499.5,936.0 1499.9,937.6 1500.3,939.3C1500.7,940.9 1501.1,942.5 1501.6,944.2C1502.0,945.8 1502.5,947.4 1502.9,949.0C1503.4,950.6 1503.9,952.2 1504.4,953.8C1504.9,955.4 1505.4,957.0 1505.9,958.5C1506.4,960.1 1507.0,961.6 1507.6,963.2C1508.1,964.7 1508.7,966.3 1509.4,967.8C1510.0,969.3 1510.6,970.8 1511.3,972.3C1512.0,973.8 1512.7,975.3 1513.4,976.7C1514.2,978.2 1515.0,979.6 1515.8,981.0C1516.6,982.5 1517.4,983.9 1518.3,985.2C1519.2,986.6 1520.1,988.0 1521.1,989.3C1522.0,990.7 1523.0,992.0 1524.0,993.3C1525.0,994.7 1526.0,996.0 1527.1,997.3C1528.1,998.6 1529.2,999.9 1530.3,1001.1C1531.4,1002.4 1532.5,1003.7 1533.6,1005.0C1534.7,1006.2 1535.8,1007.5 1536.9,1008.8C1538.0,1010.0 1539.2,1011.3 1540.3,1012.6C1541.4,1013.9 1542.5,1015.1 1543.6,1016.4C1544.7,1017.7 1545.8,1019.0 1546.9,1020.3C1548.0,1021.6 1549.0,1022.9 1550.1,1024.2C1551.1,1025.5 1552.1,1026.8 1553.1,1028.2C1554.1,1029.5 1555.1,1030.9 1556.0,1032.2C1557.0,1033.6 1557.9,1035.0 1558.8,1036.4C1559.7,1037.8 1560.6,1039.2 1561.4,1040.6C1562.3,1042.0 1563.1,1043.5 1563.9,1044.9C1564.8,1046.3 1565.6,1047.8 1566.4,1049.2C1567.1,1050.7 1567.9,1052.2 1568.7,1053.6C1569.4,1055.1 1570.2,1056.6 1570.9,1058.1C1571.7,1059.5 1572.4,1061.0 1573.1,1062.5C1573.8,1064.0 1574.6,1065.5 1575.3,1067.0C1576.0,1068.5 1576.7,1070.0 1577.4,1071.5C1578.1,1073.1 1578.7,1074.6 1579.4,1076.1C1580.1,1077.6 1580.8,1079.1 1581.5,1080.6C1582.2,1082.1 1582.9,1083.7 1583.6,1085.2C1584.2,1086.7 1584.9,1088.2 1585.6,1089.7C1586.3,1091.2 1587.0,1092.8 1587.6,1094.3C1588.3,1095.8 1589.0,1097.3 1589.7,1098.8C1590.3,1100.4 1591.0,1101.9 1591.7,1103.4C1592.3,1104.9 1593.0,1106.5 1593.7,1108.0C1594.3,1109.5 1595.0,1111.0 1595.7,1112.6C1596.3,1114.1 1597.0,1115.6 1597.7,1117.2C1598.3,1118.7 1599.0,1120.2 1599.6,1121.7C1600.3,1123.3 1601.0,1124.8 1601.6,1126.3C1602.3,1127.9 1602.9,1129.4 1603.6,1130.9C1604.2,1132.5 1604.9,1134.0 1605.5,1135.6C1606.2,1137.1 1606.8,1138.6 1607.5,1140.2C1608.1,1141.7 1608.7,1143.3 1609.4,1144.8C1610.0,1146.3 1610.7,1147.9 1611.3,1149.4C1611.9,1151.0 1612.6,1152.5 1613.2,1154.1C1613.9,1155.6 1614.5,1157.1 1615.1,1158.7C1615.8,1160.2 1616.4,1161.8 1617.0,1163.3C1617.7,1164.9 1618.3,1166.4 1618.9,1168.0C1619.5,1169.5 1620.2,1171.1 1620.8,1172.7C1621.4,1174.2 1622.0,1175.8 1622.6,1177.3C1623.3,1178.9 1623.9,1180.4 1624.5,1182.0C1625.1,1183.6 1625.7,1185.1 1626.4,1186.7C1627.0,1188.2 1627.6,1189.8 1628.2,1191.3C1628.9,1192.9 1629.5,1194.4 1630.2,1196.0C1630.8,1197.5 1631.5,1199.0 1632.1,1200.6C1632.8,1202.1 1633.5,1203.6 1634.2,1205.1C1634.9,1206.6 1635.6,1208.1 1636.3,1209.6C1637.0,1211.1 1637.8,1212.6 1638.5,1214.0C1639.3,1215.5 1640.1,1216.9 1640.9,1218.4C1641.7,1219.8 1642.5,1221.2 1643.4,1222.6C1644.2,1224.0 1645.1,1225.4 1646.0,1226.7C1647.0,1228.1 1647.9,1229.5 1648.9,1230.7C1650.0,1231.9 1651.1,1233.1 1652.5,1233.9C1653.8,1234.8 1655.4,1235.5 1657.1,1235.9C1658.8,1236.3 1660.7,1236.5 1662.5,1236.4C1664.2,1236.3 1666.1,1235.9 1667.7,1235.3C1669.3,1234.7 1670.8,1233.9 1672.0,1232.8C1673.2,1231.7 1674.1,1230.4 1674.9,1229.0C1675.7,1227.5 1676.2,1225.9 1676.8,1224.3C1677.4,1222.7 1677.8,1221.1 1678.4,1219.5C1679.0,1217.9 1679.6,1216.4 1680.2,1214.9C1680.8,1213.3 1681.5,1211.8 1682.2,1210.3C1682.9,1208.8 1683.7,1207.3 1684.4,1205.7C1685.2,1204.2 1686.0,1202.5 1686.9,1201.0C1687.8,1199.5 1688.7,1197.9 1689.8,1196.6C1690.8,1195.2 1691.9,1194.0 1693.2,1193.0C1694.5,1192.1 1696.0,1191.4 1697.5,1191.0C1699.1,1190.6 1700.9,1190.6 1702.6,1190.6C1704.3,1190.6 1706.2,1190.9 1708.0,1191.0C1709.8,1191.1 1711.6,1191.3 1713.3,1191.2C1714.9,1191.2 1716.5,1191.0 1717.9,1190.5C1719.2,1189.9 1720.4,1189.0 1721.4,1187.9C1722.4,1186.8 1723.2,1185.2 1723.9,1183.7C1724.7,1182.2 1725.3,1180.5 1725.9,1178.9C1726.5,1177.3 1727.1,1175.7 1727.6,1174.1C1728.2,1172.4 1728.7,1170.8 1729.2,1169.2C1729.6,1167.6 1730.1,1166.0 1730.5,1164.4C1730.9,1162.8 1731.3,1161.2 1731.7,1159.5C1732.1,1157.9 1732.4,1156.3 1732.8,1154.7C1733.2,1153.0 1733.5,1151.4 1733.8,1149.8C1734.2,1148.1 1734.5,1146.5 1734.8,1144.9C1735.1,1143.2 1735.4,1141.6 1735.7,1140.0C1736.1,1138.3 1736.4,1136.7 1736.7,1135.0C1737.0,1133.4 1737.3,1131.8 1737.6,1130.1C1737.9,1128.5 1738.2,1126.9 1738.5,1125.2C1738.8,1123.6 1739.1,1121.9 1739.4,1120.3C1739.6,1118.7 1739.9,1117.0 1740.2,1115.4C1740.5,1113.7 1740.8,1112.1 1741.1,1110.5C1741.3,1108.8 1741.6,1107.2 1741.9,1105.5C1742.2,1103.9 1742.5,1102.3 1742.7,1100.6C1743.0,1099.0 1743.3,1097.3 1743.5,1095.7C1743.8,1094.0 1744.1,1092.4 1744.3,1090.7C1744.6,1089.1 1744.9,1087.5 1745.1,1085.8C1745.4,1084.2 1745.6,1082.5 1745.9,1080.9C1746.1,1079.2 1746.4,1077.6 1746.7,1075.9C1746.9,1074.3 1747.2,1072.6 1747.4,1071.0C1747.7,1069.3 1747.9,1067.7 1748.1,1066.1C1748.4,1064.4 1748.6,1062.8 1748.9,1061.1C1749.1,1059.5 1749.4,1057.8 1749.6,1056.2C1749.8,1054.5 1750.1,1052.9 1750.3,1051.2C1750.5,1049.6 1750.8,1047.9 1751.0,1046.3C1751.2,1044.6 1751.5,1043.0 1751.7,1041.3C1751.9,1039.7 1752.2,1038.0 1752.4,1036.4C1752.6,1034.7 1752.8,1033.1 1753.1,1031.4C1753.3,1029.7 1753.5,1028.1 1753.7,1026.4C1753.9,1024.8 1754.2,1023.1 1754.4,1021.5C1754.6,1019.8 1754.8,1018.2 1755.0,1016.5C1755.2,1014.9 1755.5,1013.2 1755.7,1011.6C1755.9,1009.9 1756.1,1008.3 1756.3,1006.6C1756.5,1004.9 1756.7,1003.3 1756.9,1001.6C1757.2,1000.0 1757.4,998.3 1757.6,996.7C1757.8,995.0 1758.0,993.4 1758.2,991.7C1758.4,990.0 1758.6,988.4 1758.8,986.7C1759.0,985.1 1759.2,983.4 1759.4,981.8C1759.6,980.1 1759.9,978.5 1760.1,976.8C1760.3,975.1 1760.5,973.5 1760.7,971.8C1760.9,970.2 1761.1,968.5 1761.4,966.9C1761.6,965.2 1761.8,963.6 1762.0,961.9C1762.2,960.3 1762.5,958.6 1762.7,957.0C1762.9,955.3 1763.2,953.7 1763.4,952.0C1763.6,950.4 1763.9,948.7 1764.1,947.1C1764.4,945.4 1764.6,943.8 1764.9,942.1C1765.1,940.5 1765.4,938.8 1765.6,937.2C1765.9,935.5 1766.2,933.9 1766.4,932.3C1766.7,930.6 1767.0,929.0 1767.3,927.3C1767.6,925.7 1767.9,924.1 1768.2,922.4C1768.5,920.8 1768.8,919.1 1769.1,917.5C1769.4,915.9 1769.7,914.2 1770.0,912.6C1770.4,911.0 1770.7,909.4 1771.0,907.7C1771.4,906.1 1771.7,904.5 1772.1,902.8C1772.4,901.2 1772.8,899.6 1773.2,898.0C1773.6,896.4 1773.9,894.7 1774.3,893.1C1774.7,891.5 1775.1,889.9 1775.6,888.3C1776.0,886.7 1776.4,885.0 1776.8,883.4C1777.3,881.8 1777.7,880.2 1778.2,878.6C1778.6,877.0 1779.1,875.4 1779.6,873.8C1780.1,872.2 1780.6,870.6 1781.1,869.1C1781.7,867.5 1782.2,865.9 1782.8,864.4C1783.4,862.8 1784.1,861.3 1784.7,859.7C1785.4,858.2 1786.1,856.7 1786.9,855.2C1787.6,853.7 1788.4,852.2 1789.3,850.8C1790.1,849.3 1791.0,847.9 1792.0,846.5C1792.9,845.1 1793.9,843.7 1795.0,842.4C1796.1,841.1 1797.3,839.9 1798.5,838.8C1799.7,837.7 1801.0,836.7 1802.4,835.8C1803.8,834.9 1805.3,834.2 1806.8,833.5C1808.3,832.8 1809.8,832.3 1811.4,831.8C1813.0,831.3 1814.6,830.8 1816.3,830.5C1817.9,830.1 1819.6,829.8 1821.2,829.5C1822.9,829.3 1824.6,829.1 1826.2,828.9C1827.9,828.7 1829.6,828.6 1831.2,828.4C1832.9,828.3 1834.6,828.2 1836.2,828.1C1837.9,828.0 1839.5,828.0 1841.2,827.9C1842.9,827.8 1844.5,827.8 1846.2,827.7C1847.9,827.7 1849.5,827.6 1851.2,827.6C1852.9,827.5 1854.5,827.5 1856.2,827.5C1857.8,827.4 1859.5,827.4 1861.2,827.4C1862.8,827.3 1864.5,827.3 1866.2,827.3C1867.8,827.3 1869.5,827.2 1871.2,827.2C1872.8,827.2 1874.5,827.2 1876.2,827.2C1877.8,827.2 1879.5,827.2 1881.2,827.2C1882.8,827.2 1884.5,827.2 1886.2,827.2C1887.8,827.2 1889.5,827.2 1891.2,827.2C1892.8,827.2 1894.7,827.2 1896.2,827.2C1897.6,827.3 1891.4,827.2 1900.0,827.4C1908.6,827.5 1932.0,827.9 1948.0,828.3C1964.0,828.7 1980.0,829.3 1996.0,829.9C2012.0,830.6 2028.0,831.3 2044.0,832.1C2060.0,832.9 2076.0,833.7 2092.0,834.6C2108.0,835.4 2124.0,836.3 2140.0,837.1C2156.0,838.0 2172.0,838.8 2188.0,839.6C2204.0,840.3 2227.1,841.3 2236.0,841.7C2244.9,842.1 2240.6,841.9 2241.5,841.9"/>
<g><rect x="1646.1" y="683.8" width="3.7" height="15.9" fill="#000"/><rect x="1649.8" y="683.8" width="3.0" height="15.9" fill="#a4a8a0"/><rect x="1646.1" y="709.0" width="3.7" height="12.9" fill="#000"/><rect x="1649.8" y="709.0" width="3.0" height="12.9" fill="#a4a8a0"/><rect x="1646.1" y="732.2" width="3.7" height="12.9" fill="#000"/><rect x="1649.8" y="732.2" width="3.0" height="12.9" fill="#a4a8a0"/><rect x="1646.1" y="755.5" width="3.7" height="12.9" fill="#000"/><rect x="1649.8" y="755.5" width="3.0" height="12.9" fill="#a4a8a0"/><rect x="1646.1" y="778.8" width="3.7" height="12.9" fill="#000"/><rect x="1649.8" y="778.8" width="3.0" height="12.9" fill="#a4a8a0"/><rect x="1646.1" y="802.0" width="3.7" height="12.9" fill="#000"/><rect x="1649.8" y="802.0" width="3.0" height="12.9" fill="#a4a8a0"/><rect x="1646.1" y="825.2" width="3.7" height="12.9" fill="#000"/><rect x="1649.8" y="825.2" width="3.0" height="12.9" fill="#a4a8a0"/><rect x="1646.1" y="848.5" width="3.7" height="12.9" fill="#000"/><rect x="1649.8" y="848.5" width="3.0" height="12.9" fill="#a4a8a0"/><rect x="1646.1" y="871.8" width="3.7" height="12.9" fill="#000"/><rect x="1649.8" y="871.8" width="3.0" height="12.9" fill="#a4a8a0"/><rect x="1646.1" y="895.0" width="3.7" height="12.9" fill="#000"/><rect x="1649.8" y="895.0" width="3.0" height="12.9" fill="#a4a8a0"/><rect x="1646.1" y="918.2" width="3.7" height="12.9" fill="#000"/><rect x="1649.8" y="918.2" width="3.0" height="12.9" fill="#a4a8a0"/><rect x="1646.1" y="941.5" width="3.7" height="12.9" fill="#000"/><rect x="1649.8" y="941.5" width="3.0" height="12.9" fill="#a4a8a0"/><rect x="1646.1" y="964.8" width="3.7" height="12.9" fill="#000"/><rect x="1649.8" y="964.8" width="3.0" height="12.9" fill="#a4a8a0"/><rect x="1646.1" y="988.0" width="3.7" height="12.9" fill="#000"/><rect x="1649.8" y="988.0" width="3.0" height="12.9" fill="#a4a8a0"/><rect x="1646.1" y="1011.2" width="3.7" height="12.9" fill="#000"/><rect x="1649.8" y="1011.2" width="3.0" height="12.9" fill="#a4a8a0"/><rect x="1646.1" y="1034.5" width="3.7" height="12.9" fill="#000"/><rect x="1649.8" y="1034.5" width="3.0" height="12.9" fill="#a4a8a0"/><rect x="1646.1" y="1057.8" width="3.7" height="12.9" fill="#000"/><rect x="1649.8" y="1057.8" width="3.0" height="12.9" fill="#a4a8a0"/><rect x="1646.1" y="1081.0" width="3.7" height="12.9" fill="#000"/><rect x="1649.8" y="1081.0" width="3.0" height="12.9" fill="#a4a8a0"/><rect x="1646.1" y="1104.2" width="3.7" height="12.9" fill="#000"/><rect x="1649.8" y="1104.2" width="3.0" height="12.9" fill="#a4a8a0"/><rect x="1646.1" y="1127.5" width="3.7" height="12.9" fill="#000"/><rect x="1649.8" y="1127.5" width="3.0" height="12.9" fill="#a4a8a0"/><rect x="1646.1" y="1150.8" width="3.7" height="12.9" fill="#000"/><rect x="1649.8" y="1150.8" width="3.0" height="12.9" fill="#a4a8a0"/><rect x="1646.1" y="1174.0" width="3.7" height="12.9" fill="#000"/><rect x="1649.8" y="1174.0" width="3.0" height="12.9" fill="#a4a8a0"/><rect x="1646.1" y="1197.2" width="3.7" height="12.9" fill="#000"/><rect x="1649.8" y="1197.2" width="3.0" height="12.9" fill="#a4a8a0"/><rect x="1646.1" y="1220.5" width="3.7" height="12.9" fill="#000"/><rect x="1649.8" y="1220.5" width="3.0" height="12.9" fill="#a4a8a0"/><rect x="1646.1" y="1243.8" width="3.7" height="12.9" fill="#000"/><rect x="1649.8" y="1243.8" width="3.0" height="12.9" fill="#a4a8a0"/><rect x="1646.1" y="1267.0" width="3.7" height="12.9" fill="#000"/><rect x="1649.8" y="1267.0" width="3.0" height="12.9" fill="#a4a8a0"/><rect x="1646.1" y="1290.2" width="3.7" height="12.9" fill="#000"/><rect x="1649.8" y="1290.2" width="3.0" height="12.9" fill="#a4a8a0"/><rect x="1646.1" y="1313.5" width="3.7" height="12.9" fill="#000"/><rect x="1649.8" y="1313.5" width="3.0" height="12.9" fill="#a4a8a0"/><rect x="1646.1" y="1336.8" width="3.7" height="12.9" fill="#000"/><rect x="1649.8" y="1336.8" width="3.0" height="12.9" fill="#a4a8a0"/><rect x="1646.1" y="1360.0" width="3.7" height="12.9" fill="#000"/><rect x="1649.8" y="1360.0" width="3.0" height="12.9" fill="#a4a8a0"/><rect x="1690.0" y="687.0" width="6.8" height="15.8" fill="#000"/><rect x="1690.0" y="712.2" width="6.8" height="12.9" fill="#000"/><rect x="1690.0" y="735.5" width="6.8" height="12.9" fill="#000"/><rect x="1690.0" y="758.7" width="6.8" height="12.9" fill="#000"/><rect x="1690.0" y="782.0" width="6.8" height="12.9" fill="#000"/><rect x="1690.0" y="805.2" width="6.8" height="12.9" fill="#000"/><rect x="1690.0" y="828.5" width="6.8" height="12.9" fill="#000"/><rect x="1690.0" y="851.7" width="6.8" height="12.9" fill="#000"/><rect x="1690.0" y="875.0" width="6.8" height="12.9" fill="#000"/><rect x="1690.0" y="898.2" width="6.8" height="12.9" fill="#000"/><rect x="1690.0" y="921.5" width="6.8" height="12.9" fill="#000"/><rect x="1690.0" y="944.7" width="6.8" height="12.9" fill="#000"/><rect x="1690.0" y="968.0" width="6.8" height="12.9" fill="#000"/><rect x="1690.0" y="991.2" width="6.8" height="12.9" fill="#000"/><rect x="1690.0" y="1014.5" width="6.8" height="12.9" fill="#000"/><rect x="1690.0" y="1037.7" width="6.8" height="12.9" fill="#000"/><rect x="1690.0" y="1061.0" width="6.8" height="12.9" fill="#000"/><rect x="1690.0" y="1084.2" width="6.8" height="12.9" fill="#000"/><rect x="1690.0" y="1107.5" width="6.8" height="12.9" fill="#000"/><rect x="1690.0" y="1130.7" width="6.8" height="12.9" fill="#000"/><rect x="1690.0" y="1154.0" width="6.8" height="12.9" fill="#000"/><rect x="1690.0" y="1177.2" width="6.8" height="12.9" fill="#000"/><rect x="1690.0" y="1200.5" width="6.8" height="12.9" fill="#000"/><rect x="1690.0" y="1223.7" width="6.8" height="12.9" fill="#000"/><rect x="1690.0" y="1247.0" width="6.8" height="12.9" fill="#000"/><rect x="1690.0" y="1270.2" width="6.8" height="12.9" fill="#000"/><rect x="1690.0" y="1293.5" width="6.8" height="12.9" fill="#000"/><rect x="1690.0" y="1316.7" width="6.8" height="12.9" fill="#000"/><rect x="1690.0" y="1340.0" width="6.8" height="12.9" fill="#000"/><rect x="1690.0" y="1363.2" width="6.8" height="12.9" fill="#000"/><rect x="1646.1" y="683.8" width="13.8" height="6.2" fill="#0a0a0a"/><rect x="1669.9" y="683.8" width="13.2" height="6.2" fill="#0a0a0a"/><rect x="1649.7" y="1379.3" width="13.3" height="3.6" fill="#000"/><rect x="1673.1" y="1379.3" width="16.8" height="3.6" fill="#000"/></g>
<rect x="342.0" y="1490.9" width="7.0" height="14.1" fill="#000"/>
<rect x="553.9" y="1478.2" width="3.6" height="26.8" fill="#000"/>
<rect x="557.5" y="1478.2" width="3.3" height="26.8" fill="#999"/>
<rect x="762.2" y="1490.9" width="3.4" height="14.1" fill="#6a766c"/>
<rect x="765.6" y="1490.9" width="3.4" height="14.1" fill="#000"/>
<rect x="974.0" y="1478.2" width="6.9" height="26.8" fill="#2e302e"/>
<rect x="1185.9" y="1490.9" width="6.7" height="14.1" fill="#000"/>
<rect x="1397.8" y="1478.2" width="6.5" height="26.8" fill="#000"/>
<rect x="1609.2" y="1490.9" width="3.4" height="14.1" fill="#000"/>
<rect x="1612.6" y="1490.9" width="3.4" height="14.1" fill="#4a2040"/>
<rect x="1817.6" y="1478.2" width="3.3" height="26.8" fill="#e4ebe6"/>
<rect x="1820.9" y="1478.2" width="3.6" height="26.8" fill="#000"/>
<rect x="2029.3" y="1490.9" width="3.3" height="14.1" fill="#c9cbc4"/>
<rect x="2032.6" y="1490.9" width="3.6" height="14.1" fill="#000"/>
<rect x="1898" y="115.7" width="178.6" height="6.4" fill="#000"/>
<rect x="1898" y="208.1" width="178.6" height="6.8" fill="#f00"/>
<rect x="1898" y="303.9" width="178.6" height="6.5" fill="#00f"/>
<rect x="1898" y="396.4" width="178.6" height="6.5" fill="#f0f"/>
<rect x="1901.5" y="307.3" width="171.5" height="3.1" fill="#7878ea"/>
<text transform="translate(97.94,1588.48) scale(0.7194,0.6597)" font-size="100">60</text>
<text transform="translate(521.64,1588.48) scale(0.6882,0.6597)" font-size="100">90</text>
<text transform="translate(924.63,1588.50) scale(0.7087,0.6500)" font-size="100">120</text>
<text transform="translate(1348.32,1588.50) scale(0.6855,0.6500)" font-size="100">150</text>
<text transform="translate(1768.53,1588.50) scale(0.7087,0.6500)" font-size="100">180</text>
<text transform="translate(2191.57,1588.50) scale(0.7063,0.6500)" font-size="100">210</text>
<text transform="translate(2113.18,146.18) scale(0.8250,0.7612)" font-size="100">O</text>
<text transform="translate(2089.64,241.20) scale(0.7928,0.7522)" font-size="100">S5</text>
<text transform="translate(2089.63,334.39) scale(0.7938,0.7567)" font-size="100">S2</text>
<text transform="translate(2089.66,429.50) scale(0.7878,0.7522)" font-size="100">S6</text>
<text transform="translate(891.65,1682.6) scale(0.7732,0.7292)" font-size="100">Temperature (</text>
<text transform="translate(1365.09,1649.77) scale(0.4786,0.5250)" font-size="100">o</text>
<text transform="translate(1387.43,1682.6) scale(0.7937,0.7292)" font-size="100">C)</text>
<text transform="translate(84.58,991.47) rotate(-90) scale(0.7344,0.7341)" font-size="100">Heat flow(W/g)</text>
</svg>
</body></html>
